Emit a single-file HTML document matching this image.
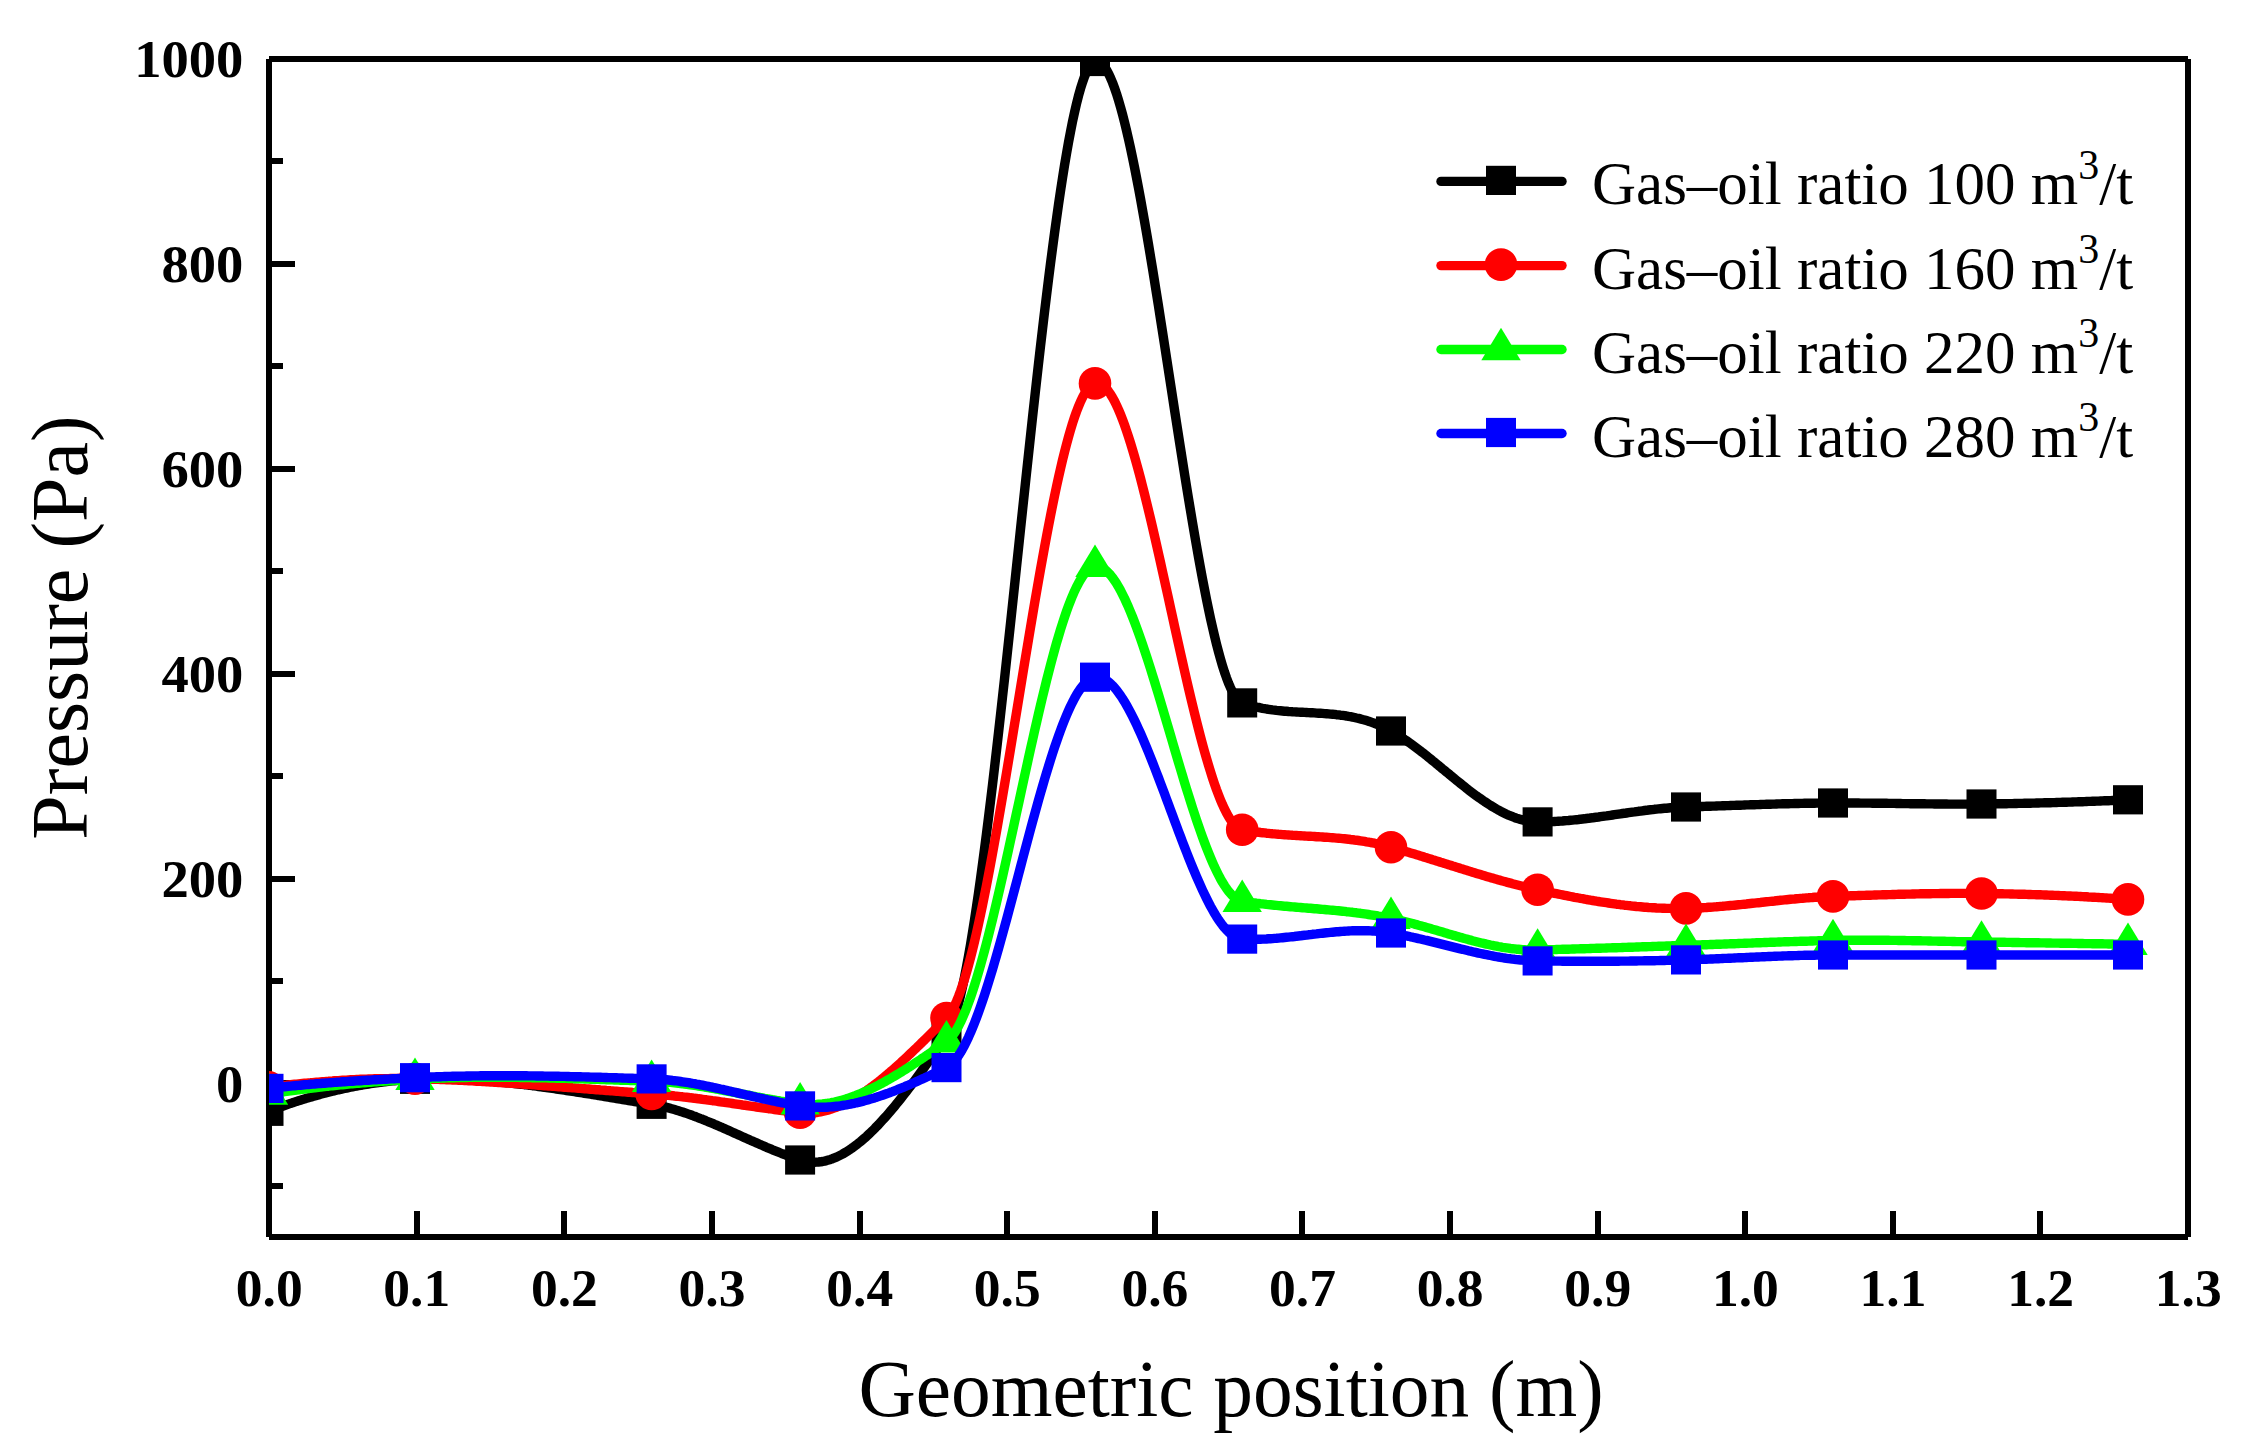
<!DOCTYPE html>
<html lang="en"><head><meta charset="utf-8"><title>Pressure vs geometric position</title>
<style>html,body{margin:0;padding:0;background:#fff}svg{display:block}.tk{font-family:"Liberation Serif","Times New Roman",serif;font-weight:bold;font-size:51.9px;fill:#000}.ti{font-family:"Liberation Serif","Times New Roman",serif;font-size:80px;fill:#000}.lg{font-family:"Liberation Serif","Times New Roman",serif;font-size:61px;fill:#000}</style></head><body>
<svg width="2255" height="1455" viewBox="0 0 2255 1455">
<rect width="2255" height="1455" fill="#fff"/>
<g stroke="#000" stroke-width="6" fill="none" shape-rendering="crispEdges">
<line x1="269" y1="59" x2="269" y2="1237"/><line x1="2188" y1="59" x2="2188" y2="1237"/><line x1="269" y1="59" x2="2188" y2="59"/><line x1="269" y1="1237" x2="2188" y2="1237"/>
<line x1="269" y1="1083.3" x2="295" y2="1083.3"/>
<line x1="269" y1="878.5" x2="295" y2="878.5"/>
<line x1="269" y1="673.6" x2="295" y2="673.6"/>
<line x1="269" y1="468.7" x2="295" y2="468.7"/>
<line x1="269" y1="263.9" x2="295" y2="263.9"/>
<line x1="269" y1="59.0" x2="295" y2="59.0"/>
<line x1="269" y1="1185.8" x2="283" y2="1185.8"/>
<line x1="269" y1="980.9" x2="283" y2="980.9"/>
<line x1="269" y1="776.0" x2="283" y2="776.0"/>
<line x1="269" y1="571.2" x2="283" y2="571.2"/>
<line x1="269" y1="366.3" x2="283" y2="366.3"/>
<line x1="269" y1="161.4" x2="283" y2="161.4"/>
<line x1="416.6" y1="1237" x2="416.6" y2="1211"/>
<line x1="564.2" y1="1237" x2="564.2" y2="1211"/>
<line x1="711.8" y1="1237" x2="711.8" y2="1211"/>
<line x1="859.5" y1="1237" x2="859.5" y2="1211"/>
<line x1="1007.1" y1="1237" x2="1007.1" y2="1211"/>
<line x1="1154.7" y1="1237" x2="1154.7" y2="1211"/>
<line x1="1302.3" y1="1237" x2="1302.3" y2="1211"/>
<line x1="1449.9" y1="1237" x2="1449.9" y2="1211"/>
<line x1="1597.5" y1="1237" x2="1597.5" y2="1211"/>
<line x1="1745.2" y1="1237" x2="1745.2" y2="1211"/>
<line x1="1892.8" y1="1237" x2="1892.8" y2="1211"/>
<line x1="2040.4" y1="1237" x2="2040.4" y2="1211"/>
</g>
<text class="tk" transform="translate(243.4,1101.5) scale(1.052,1)" text-anchor="end">0</text>
<text class="tk" transform="translate(243.4,896.7) scale(1.052,1)" text-anchor="end">200</text>
<text class="tk" transform="translate(243.4,691.8) scale(1.052,1)" text-anchor="end">400</text>
<text class="tk" transform="translate(243.4,486.9) scale(1.052,1)" text-anchor="end">600</text>
<text class="tk" transform="translate(243.4,282.1) scale(1.052,1)" text-anchor="end">800</text>
<text class="tk" transform="translate(243.4,77.2) scale(1.052,1)" text-anchor="end">1000</text>
<text class="tk" transform="translate(269.2,1305.8) scale(1.032,1)" text-anchor="middle">0.0</text>
<text class="tk" transform="translate(416.8,1305.8) scale(1.032,1)" text-anchor="middle">0.1</text>
<text class="tk" transform="translate(564.4,1305.8) scale(1.032,1)" text-anchor="middle">0.2</text>
<text class="tk" transform="translate(712.0,1305.8) scale(1.032,1)" text-anchor="middle">0.3</text>
<text class="tk" transform="translate(859.7,1305.8) scale(1.032,1)" text-anchor="middle">0.4</text>
<text class="tk" transform="translate(1007.3,1305.8) scale(1.032,1)" text-anchor="middle">0.5</text>
<text class="tk" transform="translate(1154.9,1305.8) scale(1.032,1)" text-anchor="middle">0.6</text>
<text class="tk" transform="translate(1302.5,1305.8) scale(1.032,1)" text-anchor="middle">0.7</text>
<text class="tk" transform="translate(1450.1,1305.8) scale(1.032,1)" text-anchor="middle">0.8</text>
<text class="tk" transform="translate(1597.7,1305.8) scale(1.032,1)" text-anchor="middle">0.9</text>
<text class="tk" transform="translate(1745.4,1305.8) scale(1.032,1)" text-anchor="middle">1.0</text>
<text class="tk" transform="translate(1893.0,1305.8) scale(1.032,1)" text-anchor="middle">1.1</text>
<text class="tk" transform="translate(2040.6,1305.8) scale(1.032,1)" text-anchor="middle">1.2</text>
<text class="tk" transform="translate(2188.2,1305.8) scale(1.032,1)" text-anchor="middle">1.3</text>
<text class="ti" x="1231" y="1416" text-anchor="middle" style="font-size:79.4px">Geometric position (m)</text>
<text class="ti" transform="translate(87,627.5) rotate(-90)" text-anchor="middle">Pressure (Pa)</text>
<clipPath id="c"><rect x="269" y="59" width="1919" height="1178"/></clipPath>
<g clip-path="url(#c)">
<path d="M268.5,1111.3 L270.5,1110.5 L272.5,1109.8 L274.5,1109.1 L276.5,1108.3 L278.5,1107.6 L280.5,1106.9 L282.5,1106.2 L284.5,1105.5 L286.5,1104.8 L288.5,1104.1 L290.5,1103.4 L292.5,1102.8 L294.5,1102.1 L296.5,1101.4 L298.5,1100.8 L300.5,1100.2 L302.5,1099.6 L304.5,1098.9 L306.5,1098.3 L308.5,1097.7 L310.5,1097.1 L312.5,1096.6 L314.5,1096.0 L316.5,1095.4 L318.5,1094.9 L320.5,1094.3 L322.5,1093.8 L324.5,1093.3 L326.5,1092.7 L328.5,1092.2 L330.5,1091.7 L332.5,1091.2 L334.5,1090.8 L336.5,1090.3 L338.5,1089.8 L340.5,1089.4 L342.5,1088.9 L344.5,1088.5 L346.5,1088.1 L348.5,1087.6 L350.5,1087.2 L352.5,1086.8 L354.5,1086.4 L356.5,1086.1 L358.5,1085.7 L360.5,1085.3 L362.5,1085.0 L364.5,1084.6 L366.5,1084.3 L368.5,1084.0 L370.5,1083.7 L372.5,1083.4 L374.5,1083.1 L376.5,1082.8 L378.5,1082.5 L380.5,1082.3 L382.5,1082.0 L384.5,1081.8 L386.5,1081.5 L388.5,1081.3 L390.5,1081.1 L392.5,1080.9 L394.5,1080.7 L396.5,1080.5 L398.5,1080.3 L400.5,1080.2 L402.5,1080.0 L404.5,1079.9 L406.5,1079.7 L408.5,1079.6 L410.5,1079.5 L412.5,1079.4 L414.5,1079.3 L415.0,1079.3 L416.5,1079.2 L418.5,1079.2 L420.5,1079.1 L422.5,1079.0 L424.5,1079.0 L426.5,1079.0 L428.5,1078.9 L430.5,1078.9 L432.5,1078.9 L434.5,1078.9 L436.5,1078.9 L438.5,1078.9 L440.5,1078.9 L442.5,1078.9 L444.5,1078.9 L446.5,1078.9 L448.5,1079.0 L450.5,1079.0 L452.5,1079.1 L454.5,1079.1 L456.5,1079.2 L458.5,1079.3 L460.5,1079.3 L462.5,1079.4 L464.5,1079.5 L466.5,1079.6 L468.5,1079.7 L470.5,1079.8 L472.5,1079.9 L474.5,1080.0 L476.5,1080.2 L478.5,1080.3 L480.5,1080.4 L482.5,1080.6 L484.5,1080.7 L486.5,1080.9 L488.5,1081.0 L490.5,1081.2 L492.5,1081.4 L494.5,1081.5 L496.5,1081.7 L498.5,1081.9 L500.5,1082.1 L502.5,1082.3 L504.5,1082.5 L506.5,1082.7 L508.5,1082.9 L510.5,1083.1 L512.5,1083.3 L514.5,1083.5 L516.5,1083.8 L518.5,1084.0 L520.5,1084.2 L522.5,1084.4 L524.5,1084.7 L526.5,1084.9 L528.5,1085.2 L530.5,1085.4 L532.5,1085.7 L534.5,1085.9 L536.5,1086.2 L538.5,1086.5 L540.5,1086.7 L542.5,1087.0 L544.5,1087.3 L546.5,1087.5 L548.5,1087.8 L550.5,1088.1 L552.5,1088.4 L554.5,1088.7 L556.5,1089.0 L558.5,1089.3 L560.5,1089.6 L562.5,1089.9 L564.5,1090.2 L566.5,1090.5 L568.5,1090.8 L570.5,1091.1 L572.5,1091.4 L574.5,1091.7 L576.5,1092.0 L578.5,1092.3 L580.5,1092.6 L582.5,1092.9 L584.5,1093.3 L586.5,1093.6 L588.5,1093.9 L590.5,1094.2 L592.5,1094.5 L594.5,1094.9 L596.5,1095.2 L598.5,1095.5 L600.5,1095.9 L602.5,1096.2 L604.5,1096.5 L606.5,1096.8 L608.5,1097.2 L610.5,1097.5 L612.5,1097.8 L614.5,1098.2 L616.5,1098.5 L618.5,1098.8 L620.5,1099.2 L622.5,1099.5 L624.5,1099.8 L626.5,1100.2 L628.5,1100.5 L630.5,1100.8 L632.5,1101.2 L634.5,1101.5 L636.5,1101.8 L638.5,1102.2 L640.5,1102.5 L642.5,1102.8 L644.5,1103.1 L646.5,1103.5 L648.5,1103.8 L650.5,1104.1 L651.6,1104.3 L652.5,1104.4 L654.5,1104.8 L656.5,1105.2 L658.5,1105.6 L660.5,1106.0 L662.5,1106.4 L664.5,1106.9 L666.5,1107.4 L668.5,1107.9 L670.5,1108.4 L672.5,1109.0 L674.5,1109.6 L676.5,1110.2 L678.5,1110.8 L680.5,1111.4 L682.5,1112.0 L684.5,1112.7 L686.5,1113.4 L688.5,1114.1 L690.5,1114.8 L692.5,1115.5 L694.5,1116.3 L696.5,1117.0 L698.5,1117.8 L700.5,1118.6 L702.5,1119.3 L704.5,1120.1 L706.5,1121.0 L708.5,1121.8 L710.5,1122.6 L712.5,1123.4 L714.5,1124.3 L716.5,1125.1 L718.5,1126.0 L720.5,1126.9 L722.5,1127.7 L724.5,1128.6 L726.5,1129.5 L728.5,1130.4 L730.5,1131.3 L732.5,1132.2 L734.5,1133.1 L736.5,1134.0 L738.5,1134.9 L740.5,1135.8 L742.5,1136.7 L744.5,1137.6 L746.5,1138.5 L748.5,1139.4 L750.5,1140.3 L752.5,1141.1 L754.5,1142.0 L756.5,1142.9 L758.5,1143.8 L760.5,1144.7 L762.5,1145.5 L764.5,1146.4 L766.5,1147.3 L768.5,1148.1 L770.5,1148.9 L772.5,1149.8 L774.5,1150.6 L776.5,1151.4 L778.5,1152.2 L780.5,1153.0 L782.5,1153.8 L784.5,1154.5 L786.5,1155.3 L788.5,1156.0 L790.5,1156.7 L792.5,1157.4 L794.5,1158.1 L796.5,1158.8 L798.5,1159.5 L800.1,1160.0 L800.5,1160.1 L802.5,1160.7 L804.5,1161.2 L806.5,1161.6 L808.5,1161.9 L810.5,1162.1 L812.5,1162.2 L814.5,1162.2 L816.5,1162.1 L818.5,1162.0 L820.5,1161.8 L822.5,1161.5 L824.5,1161.1 L826.5,1160.6 L828.5,1160.0 L830.5,1159.4 L832.5,1158.7 L834.5,1157.9 L836.5,1157.1 L838.5,1156.1 L840.5,1155.1 L842.5,1154.1 L844.5,1152.9 L846.5,1151.7 L848.5,1150.5 L850.5,1149.1 L852.5,1147.8 L854.5,1146.3 L856.5,1144.8 L858.5,1143.2 L860.5,1141.6 L862.5,1139.9 L864.5,1138.2 L866.5,1136.4 L868.5,1134.5 L870.5,1132.6 L872.5,1130.7 L874.5,1128.7 L876.5,1126.6 L878.5,1124.6 L880.5,1122.4 L882.5,1120.2 L884.5,1118.0 L886.5,1115.8 L888.5,1113.5 L890.5,1111.2 L892.5,1108.8 L894.5,1106.4 L896.5,1103.9 L898.5,1101.5 L900.5,1099.0 L902.5,1096.4 L904.5,1093.9 L906.5,1091.3 L908.5,1088.7 L910.5,1086.1 L912.5,1083.4 L914.5,1080.7 L916.5,1078.0 L918.5,1075.3 L920.5,1072.6 L922.5,1069.8 L924.5,1067.1 L926.5,1064.3 L928.5,1061.5 L930.5,1058.7 L932.5,1055.9 L934.5,1053.0 L936.5,1050.2 L938.5,1047.4 L940.5,1044.5 L942.5,1041.7 L944.5,1038.8 L946.5,1036.0 L948.5,1032.7 L950.5,1028.6 L952.5,1023.6 L954.5,1017.7 L956.5,1011.1 L958.5,1003.7 L960.5,995.6 L962.5,986.8 L964.5,977.2 L966.5,967.0 L968.5,956.2 L970.5,944.7 L972.5,932.6 L974.5,920.0 L976.5,906.8 L978.5,893.1 L980.5,878.9 L982.5,864.2 L984.5,849.1 L986.5,833.6 L988.5,817.6 L990.5,801.3 L992.5,784.7 L994.5,767.7 L996.5,750.4 L998.5,732.9 L1000.5,715.1 L1002.5,697.1 L1004.5,678.9 L1006.5,660.6 L1008.5,642.1 L1010.5,623.4 L1012.5,604.7 L1014.5,585.9 L1016.5,567.0 L1018.5,548.2 L1020.5,529.3 L1022.5,510.5 L1024.5,491.7 L1026.5,473.0 L1028.5,454.4 L1030.5,435.9 L1032.5,417.6 L1034.5,399.4 L1036.5,381.5 L1038.5,363.8 L1040.5,346.3 L1042.5,329.2 L1044.5,312.3 L1046.5,295.7 L1048.5,279.5 L1050.5,263.7 L1052.5,248.3 L1054.5,233.3 L1056.5,218.8 L1058.5,204.7 L1060.5,191.1 L1062.5,178.1 L1064.5,165.6 L1066.5,153.7 L1068.5,142.4 L1070.5,131.8 L1072.5,121.7 L1074.5,112.4 L1076.5,103.8 L1078.5,95.8 L1080.5,88.7 L1082.5,82.3 L1084.5,76.7 L1086.5,71.9 L1088.5,68.0 L1090.5,65.0 L1092.5,62.9 L1094.5,61.7 L1095.0,61.5 L1096.5,61.3 L1098.5,61.7 L1100.5,62.8 L1102.5,64.5 L1104.5,66.9 L1106.5,69.9 L1108.5,73.5 L1110.5,77.8 L1112.5,82.5 L1114.5,87.9 L1116.5,93.7 L1118.5,100.1 L1120.5,107.0 L1122.5,114.3 L1124.5,122.1 L1126.5,130.4 L1128.5,139.0 L1130.5,148.1 L1132.5,157.5 L1134.5,167.3 L1136.5,177.5 L1138.5,187.9 L1140.5,198.7 L1142.5,209.8 L1144.5,221.1 L1146.5,232.6 L1148.5,244.4 L1150.5,256.4 L1152.5,268.6 L1154.5,281.0 L1156.5,293.5 L1158.5,306.1 L1160.5,318.9 L1162.5,331.7 L1164.5,344.6 L1166.5,357.6 L1168.5,370.6 L1170.5,383.6 L1172.5,396.6 L1174.5,409.7 L1176.5,422.6 L1178.5,435.5 L1180.5,448.3 L1182.5,461.1 L1184.5,473.7 L1186.5,486.2 L1188.5,498.5 L1190.5,510.6 L1192.5,522.6 L1194.5,534.3 L1196.5,545.8 L1198.5,557.1 L1200.5,568.1 L1202.5,578.8 L1204.5,589.2 L1206.5,599.3 L1208.5,609.0 L1210.5,618.4 L1212.5,627.3 L1214.5,635.9 L1216.5,644.1 L1218.5,651.8 L1220.5,659.0 L1222.5,665.8 L1224.5,672.1 L1226.5,677.8 L1228.5,683.1 L1230.5,687.7 L1232.5,691.8 L1234.5,695.3 L1236.5,698.2 L1238.5,700.5 L1240.5,702.1 L1242.2,702.9 L1242.5,703.0 L1244.5,703.7 L1246.5,704.3 L1248.5,704.9 L1250.5,705.5 L1252.5,706.0 L1254.5,706.5 L1256.5,707.0 L1258.5,707.4 L1260.5,707.9 L1262.5,708.3 L1264.5,708.6 L1266.5,709.0 L1268.5,709.3 L1270.5,709.6 L1272.5,709.9 L1274.5,710.1 L1276.5,710.4 L1278.5,710.6 L1280.5,710.8 L1282.5,711.0 L1284.5,711.2 L1286.5,711.3 L1288.5,711.5 L1290.5,711.6 L1292.5,711.8 L1294.5,711.9 L1296.5,712.0 L1298.5,712.1 L1300.5,712.2 L1302.5,712.3 L1304.5,712.4 L1306.5,712.5 L1308.5,712.6 L1310.5,712.7 L1312.5,712.8 L1314.5,712.9 L1316.5,713.1 L1318.5,713.2 L1320.5,713.3 L1322.5,713.4 L1324.5,713.6 L1326.5,713.7 L1328.5,713.9 L1330.5,714.1 L1332.5,714.2 L1334.5,714.4 L1336.5,714.7 L1338.5,714.9 L1340.5,715.2 L1342.5,715.4 L1344.5,715.7 L1346.5,716.0 L1348.5,716.4 L1350.5,716.7 L1352.5,717.1 L1354.5,717.5 L1356.5,718.0 L1358.5,718.4 L1360.5,718.9 L1362.5,719.5 L1364.5,720.0 L1366.5,720.6 L1368.5,721.2 L1370.5,721.9 L1372.5,722.6 L1374.5,723.3 L1376.5,724.1 L1378.5,724.9 L1380.5,725.8 L1382.5,726.7 L1384.5,727.6 L1386.5,728.6 L1388.5,729.6 L1390.5,730.7 L1391.0,731.0 L1392.5,731.8 L1394.5,733.0 L1396.5,734.2 L1398.5,735.4 L1400.5,736.7 L1402.5,738.0 L1404.5,739.4 L1406.5,740.7 L1408.5,742.1 L1410.5,743.5 L1412.5,745.0 L1414.5,746.5 L1416.5,748.0 L1418.5,749.5 L1420.5,751.0 L1422.5,752.6 L1424.5,754.1 L1426.5,755.7 L1428.5,757.3 L1430.5,758.9 L1432.5,760.6 L1434.5,762.2 L1436.5,763.8 L1438.5,765.5 L1440.5,767.1 L1442.5,768.8 L1444.5,770.4 L1446.5,772.1 L1448.5,773.7 L1450.5,775.4 L1452.5,777.0 L1454.5,778.7 L1456.5,780.3 L1458.5,781.9 L1460.5,783.5 L1462.5,785.1 L1464.5,786.7 L1466.5,788.3 L1468.5,789.9 L1470.5,791.4 L1472.5,792.9 L1474.5,794.4 L1476.5,795.9 L1478.5,797.3 L1480.5,798.7 L1482.5,800.1 L1484.5,801.5 L1486.5,802.8 L1488.5,804.1 L1490.5,805.4 L1492.5,806.6 L1494.5,807.8 L1496.5,809.0 L1498.5,810.1 L1500.5,811.2 L1502.5,812.2 L1504.5,813.2 L1506.5,814.2 L1508.5,815.1 L1510.5,815.9 L1512.5,816.7 L1514.5,817.5 L1516.5,818.2 L1518.5,818.8 L1520.5,819.4 L1522.5,819.9 L1524.5,820.4 L1526.5,820.8 L1528.5,821.2 L1530.5,821.4 L1532.5,821.7 L1534.5,821.8 L1536.5,821.9 L1537.6,821.9 L1538.5,821.9 L1540.5,821.9 L1542.5,821.9 L1544.5,821.8 L1546.5,821.8 L1548.5,821.7 L1550.5,821.7 L1552.5,821.6 L1554.5,821.5 L1556.5,821.4 L1558.5,821.2 L1560.5,821.1 L1562.5,821.0 L1564.5,820.8 L1566.5,820.6 L1568.5,820.5 L1570.5,820.3 L1572.5,820.1 L1574.5,819.9 L1576.5,819.7 L1578.5,819.5 L1580.5,819.2 L1582.5,819.0 L1584.5,818.8 L1586.5,818.5 L1588.5,818.3 L1590.5,818.0 L1592.5,817.8 L1594.5,817.5 L1596.5,817.2 L1598.5,817.0 L1600.5,816.7 L1602.5,816.4 L1604.5,816.1 L1606.5,815.9 L1608.5,815.6 L1610.5,815.3 L1612.5,815.0 L1614.5,814.7 L1616.5,814.4 L1618.5,814.1 L1620.5,813.8 L1622.5,813.5 L1624.5,813.3 L1626.5,813.0 L1628.5,812.7 L1630.5,812.4 L1632.5,812.1 L1634.5,811.9 L1636.5,811.6 L1638.5,811.3 L1640.5,811.1 L1642.5,810.8 L1644.5,810.5 L1646.5,810.3 L1648.5,810.0 L1650.5,809.8 L1652.5,809.6 L1654.5,809.3 L1656.5,809.1 L1658.5,808.9 L1660.5,808.7 L1662.5,808.5 L1664.5,808.3 L1666.5,808.2 L1668.5,808.0 L1670.5,807.8 L1672.5,807.7 L1674.5,807.6 L1676.5,807.4 L1678.5,807.3 L1680.5,807.2 L1682.5,807.1 L1684.5,807.0 L1686.0,807.0 L1686.5,807.0 L1688.5,806.9 L1690.5,806.9 L1692.5,806.8 L1694.5,806.7 L1696.5,806.7 L1698.5,806.6 L1700.5,806.5 L1702.5,806.5 L1704.5,806.4 L1706.5,806.3 L1708.5,806.3 L1710.5,806.2 L1712.5,806.1 L1714.5,806.1 L1716.5,806.0 L1718.5,805.9 L1720.5,805.9 L1722.5,805.8 L1724.5,805.7 L1726.5,805.6 L1728.5,805.6 L1730.5,805.5 L1732.5,805.4 L1734.5,805.4 L1736.5,805.3 L1738.5,805.2 L1740.5,805.2 L1742.5,805.1 L1744.5,805.0 L1746.5,804.9 L1748.5,804.9 L1750.5,804.8 L1752.5,804.7 L1754.5,804.7 L1756.5,804.6 L1758.5,804.6 L1760.5,804.5 L1762.5,804.4 L1764.5,804.4 L1766.5,804.3 L1768.5,804.2 L1770.5,804.2 L1772.5,804.1 L1774.5,804.1 L1776.5,804.0 L1778.5,803.9 L1780.5,803.9 L1782.5,803.8 L1784.5,803.8 L1786.5,803.7 L1788.5,803.7 L1790.5,803.6 L1792.5,803.6 L1794.5,803.5 L1796.5,803.5 L1798.5,803.5 L1800.5,803.4 L1802.5,803.4 L1804.5,803.3 L1806.5,803.3 L1808.5,803.3 L1810.5,803.2 L1812.5,803.2 L1814.5,803.2 L1816.5,803.1 L1818.5,803.1 L1820.5,803.1 L1822.5,803.1 L1824.5,803.1 L1826.5,803.0 L1828.5,803.0 L1830.5,803.0 L1832.5,803.0 L1833.0,803.0 L1834.5,803.0 L1836.5,803.0 L1838.5,803.0 L1840.5,803.0 L1842.5,803.0 L1844.5,803.0 L1846.5,803.0 L1848.5,803.0 L1850.5,803.0 L1852.5,803.0 L1854.5,803.0 L1856.5,803.0 L1858.5,803.0 L1860.5,803.1 L1862.5,803.1 L1864.5,803.1 L1866.5,803.1 L1868.5,803.1 L1870.5,803.1 L1872.5,803.2 L1874.5,803.2 L1876.5,803.2 L1878.5,803.2 L1880.5,803.3 L1882.5,803.3 L1884.5,803.3 L1886.5,803.3 L1888.5,803.4 L1890.5,803.4 L1892.5,803.4 L1894.5,803.4 L1896.5,803.5 L1898.5,803.5 L1900.5,803.5 L1902.5,803.6 L1904.5,803.6 L1906.5,803.6 L1908.5,803.6 L1910.5,803.7 L1912.5,803.7 L1914.5,803.7 L1916.5,803.7 L1918.5,803.8 L1920.5,803.8 L1922.5,803.8 L1924.5,803.8 L1926.5,803.9 L1928.5,803.9 L1930.5,803.9 L1932.5,803.9 L1934.5,804.0 L1936.5,804.0 L1938.5,804.0 L1940.5,804.0 L1942.5,804.0 L1944.5,804.0 L1946.5,804.0 L1948.5,804.1 L1950.5,804.1 L1952.5,804.1 L1954.5,804.1 L1956.5,804.1 L1958.5,804.1 L1960.5,804.1 L1962.5,804.1 L1964.5,804.1 L1966.5,804.1 L1968.5,804.1 L1970.5,804.1 L1972.5,804.1 L1974.5,804.1 L1976.5,804.0 L1978.5,804.0 L1980.5,804.0 L1981.5,804.0 L1982.5,804.0 L1984.5,804.0 L1986.5,803.9 L1988.5,803.9 L1990.5,803.9 L1992.5,803.9 L1994.5,803.8 L1996.5,803.8 L1998.5,803.8 L2000.5,803.8 L2002.5,803.7 L2004.5,803.7 L2006.5,803.7 L2008.5,803.6 L2010.5,803.6 L2012.5,803.6 L2014.5,803.5 L2016.5,803.5 L2018.5,803.4 L2020.5,803.4 L2022.5,803.4 L2024.5,803.3 L2026.5,803.3 L2028.5,803.2 L2030.5,803.2 L2032.5,803.1 L2034.5,803.1 L2036.5,803.0 L2038.5,803.0 L2040.5,802.9 L2042.5,802.9 L2044.5,802.8 L2046.5,802.8 L2048.5,802.7 L2050.5,802.7 L2052.5,802.6 L2054.5,802.6 L2056.5,802.5 L2058.5,802.4 L2060.5,802.4 L2062.5,802.3 L2064.5,802.3 L2066.5,802.2 L2068.5,802.1 L2070.5,802.1 L2072.5,802.0 L2074.5,801.9 L2076.5,801.9 L2078.5,801.8 L2080.5,801.7 L2082.5,801.7 L2084.5,801.6 L2086.5,801.5 L2088.5,801.4 L2090.5,801.4 L2092.5,801.3 L2094.5,801.2 L2096.5,801.1 L2098.5,801.1 L2100.5,801.0 L2102.5,800.9 L2104.5,800.8 L2106.5,800.7 L2108.5,800.7 L2110.5,800.6 L2112.5,800.5 L2114.5,800.4 L2116.5,800.3 L2118.5,800.2 L2120.5,800.1 L2122.5,800.1 L2124.5,800.0 L2126.5,799.9 L2128.0,799.8" fill="none" stroke="#000000" stroke-width="9.4" stroke-linejoin="round" stroke-linecap="round"/>
<rect x="253.5" y="1096.7" width="30" height="29.2" fill="#000000"/>
<rect x="400.0" y="1064.7" width="30" height="29.2" fill="#000000"/>
<rect x="636.6" y="1089.7" width="30" height="29.2" fill="#000000"/>
<rect x="785.1" y="1145.4" width="30" height="29.2" fill="#000000"/>
<rect x="931.5" y="1021.4" width="30" height="29.2" fill="#000000"/>
<rect x="1080.0" y="46.9" width="30" height="29.2" fill="#000000"/>
<rect x="1227.2" y="688.3" width="30" height="29.2" fill="#000000"/>
<rect x="1376.0" y="716.4" width="30" height="29.2" fill="#000000"/>
<rect x="1522.6" y="807.3" width="30" height="29.2" fill="#000000"/>
<rect x="1671.0" y="792.4" width="30" height="29.2" fill="#000000"/>
<rect x="1818.0" y="788.4" width="30" height="29.2" fill="#000000"/>
<rect x="1966.5" y="789.4" width="30" height="29.2" fill="#000000"/>
<rect x="2113.0" y="785.2" width="30" height="29.2" fill="#000000"/>
<path d="M268.5,1087.2 L270.5,1087.0 L272.5,1086.7 L274.5,1086.5 L276.5,1086.3 L278.5,1086.0 L280.5,1085.8 L282.5,1085.6 L284.5,1085.4 L286.5,1085.2 L288.5,1084.9 L290.5,1084.7 L292.5,1084.5 L294.5,1084.3 L296.5,1084.1 L298.5,1083.9 L300.5,1083.7 L302.5,1083.5 L304.5,1083.3 L306.5,1083.1 L308.5,1082.9 L310.5,1082.8 L312.5,1082.6 L314.5,1082.4 L316.5,1082.2 L318.5,1082.1 L320.5,1081.9 L322.5,1081.7 L324.5,1081.6 L326.5,1081.4 L328.5,1081.3 L330.5,1081.1 L332.5,1081.0 L334.5,1080.8 L336.5,1080.7 L338.5,1080.6 L340.5,1080.4 L342.5,1080.3 L344.5,1080.2 L346.5,1080.1 L348.5,1079.9 L350.5,1079.8 L352.5,1079.7 L354.5,1079.6 L356.5,1079.5 L358.5,1079.4 L360.5,1079.3 L362.5,1079.3 L364.5,1079.2 L366.5,1079.1 L368.5,1079.0 L370.5,1079.0 L372.5,1078.9 L374.5,1078.8 L376.5,1078.8 L378.5,1078.7 L380.5,1078.7 L382.5,1078.6 L384.5,1078.6 L386.5,1078.6 L388.5,1078.6 L390.5,1078.5 L392.5,1078.5 L394.5,1078.5 L396.5,1078.5 L398.5,1078.5 L400.5,1078.5 L402.5,1078.5 L404.5,1078.5 L406.5,1078.6 L408.5,1078.6 L410.5,1078.6 L412.5,1078.6 L414.5,1078.7 L415.0,1078.7 L416.5,1078.7 L418.5,1078.8 L420.5,1078.8 L422.5,1078.9 L424.5,1078.9 L426.5,1079.0 L428.5,1079.1 L430.5,1079.1 L432.5,1079.2 L434.5,1079.3 L436.5,1079.3 L438.5,1079.4 L440.5,1079.5 L442.5,1079.6 L444.5,1079.6 L446.5,1079.7 L448.5,1079.8 L450.5,1079.9 L452.5,1080.0 L454.5,1080.1 L456.5,1080.1 L458.5,1080.2 L460.5,1080.3 L462.5,1080.4 L464.5,1080.5 L466.5,1080.6 L468.5,1080.7 L470.5,1080.8 L472.5,1080.9 L474.5,1081.1 L476.5,1081.2 L478.5,1081.3 L480.5,1081.4 L482.5,1081.5 L484.5,1081.6 L486.5,1081.7 L488.5,1081.8 L490.5,1082.0 L492.5,1082.1 L494.5,1082.2 L496.5,1082.3 L498.5,1082.5 L500.5,1082.6 L502.5,1082.7 L504.5,1082.8 L506.5,1083.0 L508.5,1083.1 L510.5,1083.2 L512.5,1083.4 L514.5,1083.5 L516.5,1083.6 L518.5,1083.8 L520.5,1083.9 L522.5,1084.1 L524.5,1084.2 L526.5,1084.3 L528.5,1084.5 L530.5,1084.6 L532.5,1084.8 L534.5,1084.9 L536.5,1085.1 L538.5,1085.2 L540.5,1085.4 L542.5,1085.5 L544.5,1085.7 L546.5,1085.8 L548.5,1086.0 L550.5,1086.1 L552.5,1086.3 L554.5,1086.4 L556.5,1086.6 L558.5,1086.7 L560.5,1086.9 L562.5,1087.0 L564.5,1087.2 L566.5,1087.3 L568.5,1087.5 L570.5,1087.6 L572.5,1087.8 L574.5,1087.9 L576.5,1088.1 L578.5,1088.3 L580.5,1088.4 L582.5,1088.6 L584.5,1088.7 L586.5,1088.9 L588.5,1089.0 L590.5,1089.2 L592.5,1089.4 L594.5,1089.5 L596.5,1089.7 L598.5,1089.8 L600.5,1090.0 L602.5,1090.1 L604.5,1090.3 L606.5,1090.5 L608.5,1090.6 L610.5,1090.8 L612.5,1090.9 L614.5,1091.1 L616.5,1091.2 L618.5,1091.4 L620.5,1091.6 L622.5,1091.7 L624.5,1091.9 L626.5,1092.0 L628.5,1092.2 L630.5,1092.3 L632.5,1092.5 L634.5,1092.6 L636.5,1092.8 L638.5,1092.9 L640.5,1093.1 L642.5,1093.2 L644.5,1093.4 L646.5,1093.5 L648.5,1093.7 L650.5,1093.8 L651.6,1093.9 L652.5,1094.0 L654.5,1094.1 L656.5,1094.3 L658.5,1094.4 L660.5,1094.6 L662.5,1094.8 L664.5,1095.0 L666.5,1095.2 L668.5,1095.3 L670.5,1095.5 L672.5,1095.7 L674.5,1096.0 L676.5,1096.2 L678.5,1096.4 L680.5,1096.6 L682.5,1096.8 L684.5,1097.1 L686.5,1097.3 L688.5,1097.5 L690.5,1097.8 L692.5,1098.0 L694.5,1098.3 L696.5,1098.5 L698.5,1098.8 L700.5,1099.0 L702.5,1099.3 L704.5,1099.6 L706.5,1099.8 L708.5,1100.1 L710.5,1100.4 L712.5,1100.7 L714.5,1100.9 L716.5,1101.2 L718.5,1101.5 L720.5,1101.8 L722.5,1102.1 L724.5,1102.3 L726.5,1102.6 L728.5,1102.9 L730.5,1103.2 L732.5,1103.5 L734.5,1103.8 L736.5,1104.1 L738.5,1104.4 L740.5,1104.7 L742.5,1105.0 L744.5,1105.2 L746.5,1105.5 L748.5,1105.8 L750.5,1106.1 L752.5,1106.4 L754.5,1106.7 L756.5,1107.0 L758.5,1107.3 L760.5,1107.5 L762.5,1107.8 L764.5,1108.1 L766.5,1108.4 L768.5,1108.7 L770.5,1108.9 L772.5,1109.2 L774.5,1109.5 L776.5,1109.8 L778.5,1110.0 L780.5,1110.3 L782.5,1110.6 L784.5,1110.8 L786.5,1111.1 L788.5,1111.3 L790.5,1111.6 L792.5,1111.8 L794.5,1112.0 L796.5,1112.3 L798.5,1112.5 L800.1,1112.7 L800.5,1112.7 L802.5,1112.9 L804.5,1113.0 L806.5,1113.1 L808.5,1113.1 L810.5,1113.0 L812.5,1112.9 L814.5,1112.7 L816.5,1112.5 L818.5,1112.2 L820.5,1111.8 L822.5,1111.4 L824.5,1111.0 L826.5,1110.5 L828.5,1109.9 L830.5,1109.3 L832.5,1108.6 L834.5,1107.9 L836.5,1107.2 L838.5,1106.3 L840.5,1105.5 L842.5,1104.6 L844.5,1103.6 L846.5,1102.7 L848.5,1101.6 L850.5,1100.5 L852.5,1099.4 L854.5,1098.3 L856.5,1097.1 L858.5,1095.9 L860.5,1094.6 L862.5,1093.3 L864.5,1091.9 L866.5,1090.6 L868.5,1089.2 L870.5,1087.7 L872.5,1086.3 L874.5,1084.7 L876.5,1083.2 L878.5,1081.7 L880.5,1080.1 L882.5,1078.5 L884.5,1076.8 L886.5,1075.1 L888.5,1073.5 L890.5,1071.7 L892.5,1070.0 L894.5,1068.3 L896.5,1066.5 L898.5,1064.7 L900.5,1062.9 L902.5,1061.0 L904.5,1059.2 L906.5,1057.3 L908.5,1055.4 L910.5,1053.5 L912.5,1051.6 L914.5,1049.7 L916.5,1047.8 L918.5,1045.8 L920.5,1043.9 L922.5,1041.9 L924.5,1040.0 L926.5,1038.0 L928.5,1036.0 L930.5,1034.0 L932.5,1032.0 L934.5,1030.0 L936.5,1028.1 L938.5,1026.1 L940.5,1024.1 L942.5,1022.1 L944.5,1020.1 L946.5,1018.1 L948.5,1015.8 L950.5,1013.0 L952.5,1009.6 L954.5,1005.8 L956.5,1001.4 L958.5,996.5 L960.5,991.1 L962.5,985.3 L964.5,979.0 L966.5,972.3 L968.5,965.2 L970.5,957.7 L972.5,949.8 L974.5,941.6 L976.5,933.0 L978.5,924.0 L980.5,914.8 L982.5,905.2 L984.5,895.4 L986.5,885.3 L988.5,874.9 L990.5,864.4 L992.5,853.5 L994.5,842.5 L996.5,831.3 L998.5,820.0 L1000.5,808.4 L1002.5,796.7 L1004.5,784.9 L1006.5,773.0 L1008.5,761.0 L1010.5,749.0 L1012.5,736.8 L1014.5,724.6 L1016.5,712.4 L1018.5,700.2 L1020.5,688.0 L1022.5,675.8 L1024.5,663.6 L1026.5,651.5 L1028.5,639.4 L1030.5,627.5 L1032.5,615.6 L1034.5,603.8 L1036.5,592.2 L1038.5,580.7 L1040.5,569.4 L1042.5,558.3 L1044.5,547.3 L1046.5,536.6 L1048.5,526.1 L1050.5,515.8 L1052.5,505.8 L1054.5,496.1 L1056.5,486.6 L1058.5,477.5 L1060.5,468.7 L1062.5,460.2 L1064.5,452.1 L1066.5,444.3 L1068.5,436.9 L1070.5,430.0 L1072.5,423.4 L1074.5,417.3 L1076.5,411.6 L1078.5,406.5 L1080.5,401.7 L1082.5,397.5 L1084.5,393.8 L1086.5,390.6 L1088.5,388.0 L1090.5,385.9 L1092.5,384.4 L1094.5,383.5 L1095.0,383.4 L1096.5,383.2 L1098.5,383.4 L1100.5,384.1 L1102.5,385.2 L1104.5,386.8 L1106.5,388.8 L1108.5,391.3 L1110.5,394.2 L1112.5,397.5 L1114.5,401.1 L1116.5,405.2 L1118.5,409.6 L1120.5,414.4 L1122.5,419.5 L1124.5,424.9 L1126.5,430.7 L1128.5,436.7 L1130.5,443.0 L1132.5,449.6 L1134.5,456.4 L1136.5,463.5 L1138.5,470.8 L1140.5,478.3 L1142.5,486.1 L1144.5,494.0 L1146.5,502.1 L1148.5,510.3 L1150.5,518.7 L1152.5,527.2 L1154.5,535.9 L1156.5,544.6 L1158.5,553.5 L1160.5,562.4 L1162.5,571.4 L1164.5,580.4 L1166.5,589.5 L1168.5,598.6 L1170.5,607.7 L1172.5,616.8 L1174.5,625.9 L1176.5,635.0 L1178.5,644.0 L1180.5,653.0 L1182.5,661.9 L1184.5,670.7 L1186.5,679.5 L1188.5,688.1 L1190.5,696.6 L1192.5,704.9 L1194.5,713.1 L1196.5,721.2 L1198.5,729.0 L1200.5,736.7 L1202.5,744.2 L1204.5,751.4 L1206.5,758.4 L1208.5,765.2 L1210.5,771.7 L1212.5,778.0 L1214.5,783.9 L1216.5,789.6 L1218.5,794.9 L1220.5,799.9 L1222.5,804.6 L1224.5,808.9 L1226.5,812.9 L1228.5,816.5 L1230.5,819.7 L1232.5,822.4 L1234.5,824.8 L1236.5,826.7 L1238.5,828.2 L1240.5,829.2 L1242.2,829.7 L1242.5,829.8 L1244.5,830.1 L1246.5,830.5 L1248.5,830.8 L1250.5,831.1 L1252.5,831.4 L1254.5,831.7 L1256.5,832.0 L1258.5,832.2 L1260.5,832.5 L1262.5,832.7 L1264.5,832.9 L1266.5,833.2 L1268.5,833.4 L1270.5,833.6 L1272.5,833.8 L1274.5,833.9 L1276.5,834.1 L1278.5,834.3 L1280.5,834.4 L1282.5,834.6 L1284.5,834.7 L1286.5,834.9 L1288.5,835.0 L1290.5,835.1 L1292.5,835.3 L1294.5,835.4 L1296.5,835.5 L1298.5,835.6 L1300.5,835.7 L1302.5,835.9 L1304.5,836.0 L1306.5,836.1 L1308.5,836.2 L1310.5,836.3 L1312.5,836.4 L1314.5,836.5 L1316.5,836.7 L1318.5,836.8 L1320.5,836.9 L1322.5,837.0 L1324.5,837.2 L1326.5,837.3 L1328.5,837.4 L1330.5,837.6 L1332.5,837.7 L1334.5,837.9 L1336.5,838.1 L1338.5,838.2 L1340.5,838.4 L1342.5,838.6 L1344.5,838.8 L1346.5,839.0 L1348.5,839.2 L1350.5,839.5 L1352.5,839.7 L1354.5,840.0 L1356.5,840.2 L1358.5,840.5 L1360.5,840.8 L1362.5,841.1 L1364.5,841.4 L1366.5,841.8 L1368.5,842.1 L1370.5,842.5 L1372.5,842.8 L1374.5,843.2 L1376.5,843.7 L1378.5,844.1 L1380.5,844.5 L1382.5,845.0 L1384.5,845.5 L1386.5,846.0 L1388.5,846.5 L1390.5,847.1 L1391.0,847.2 L1392.5,847.6 L1394.5,848.2 L1396.5,848.8 L1398.5,849.3 L1400.5,849.9 L1402.5,850.5 L1404.5,851.1 L1406.5,851.7 L1408.5,852.3 L1410.5,852.9 L1412.5,853.5 L1414.5,854.1 L1416.5,854.7 L1418.5,855.3 L1420.5,855.9 L1422.5,856.5 L1424.5,857.2 L1426.5,857.8 L1428.5,858.4 L1430.5,859.0 L1432.5,859.7 L1434.5,860.3 L1436.5,860.9 L1438.5,861.5 L1440.5,862.2 L1442.5,862.8 L1444.5,863.4 L1446.5,864.1 L1448.5,864.7 L1450.5,865.3 L1452.5,866.0 L1454.5,866.6 L1456.5,867.2 L1458.5,867.8 L1460.5,868.5 L1462.5,869.1 L1464.5,869.7 L1466.5,870.3 L1468.5,870.9 L1470.5,871.6 L1472.5,872.2 L1474.5,872.8 L1476.5,873.4 L1478.5,874.0 L1480.5,874.6 L1482.5,875.2 L1484.5,875.8 L1486.5,876.4 L1488.5,877.0 L1490.5,877.6 L1492.5,878.1 L1494.5,878.7 L1496.5,879.3 L1498.5,879.9 L1500.5,880.4 L1502.5,881.0 L1504.5,881.5 L1506.5,882.1 L1508.5,882.6 L1510.5,883.1 L1512.5,883.7 L1514.5,884.2 L1516.5,884.7 L1518.5,885.2 L1520.5,885.7 L1522.5,886.2 L1524.5,886.7 L1526.5,887.2 L1528.5,887.7 L1530.5,888.1 L1532.5,888.6 L1534.5,889.0 L1536.5,889.5 L1537.6,889.7 L1538.5,889.9 L1540.5,890.3 L1542.5,890.8 L1544.5,891.2 L1546.5,891.6 L1548.5,892.0 L1550.5,892.4 L1552.5,892.9 L1554.5,893.3 L1556.5,893.7 L1558.5,894.1 L1560.5,894.5 L1562.5,894.9 L1564.5,895.3 L1566.5,895.7 L1568.5,896.1 L1570.5,896.5 L1572.5,896.9 L1574.5,897.3 L1576.5,897.6 L1578.5,898.0 L1580.5,898.4 L1582.5,898.7 L1584.5,899.1 L1586.5,899.5 L1588.5,899.8 L1590.5,900.2 L1592.5,900.5 L1594.5,900.8 L1596.5,901.2 L1598.5,901.5 L1600.5,901.8 L1602.5,902.1 L1604.5,902.4 L1606.5,902.7 L1608.5,903.0 L1610.5,903.3 L1612.5,903.6 L1614.5,903.9 L1616.5,904.2 L1618.5,904.4 L1620.5,904.7 L1622.5,904.9 L1624.5,905.2 L1626.5,905.4 L1628.5,905.6 L1630.5,905.8 L1632.5,906.1 L1634.5,906.3 L1636.5,906.5 L1638.5,906.6 L1640.5,906.8 L1642.5,907.0 L1644.5,907.2 L1646.5,907.3 L1648.5,907.5 L1650.5,907.6 L1652.5,907.7 L1654.5,907.8 L1656.5,908.0 L1658.5,908.1 L1660.5,908.1 L1662.5,908.2 L1664.5,908.3 L1666.5,908.4 L1668.5,908.4 L1670.5,908.4 L1672.5,908.5 L1674.5,908.5 L1676.5,908.5 L1678.5,908.5 L1680.5,908.5 L1682.5,908.5 L1684.5,908.4 L1686.0,908.4 L1686.5,908.4 L1688.5,908.3 L1690.5,908.3 L1692.5,908.2 L1694.5,908.1 L1696.5,908.0 L1698.5,907.9 L1700.5,907.8 L1702.5,907.7 L1704.5,907.6 L1706.5,907.5 L1708.5,907.3 L1710.5,907.2 L1712.5,907.1 L1714.5,906.9 L1716.5,906.8 L1718.5,906.6 L1720.5,906.4 L1722.5,906.3 L1724.5,906.1 L1726.5,905.9 L1728.5,905.7 L1730.5,905.5 L1732.5,905.4 L1734.5,905.2 L1736.5,905.0 L1738.5,904.8 L1740.5,904.6 L1742.5,904.4 L1744.5,904.2 L1746.5,904.0 L1748.5,903.7 L1750.5,903.5 L1752.5,903.3 L1754.5,903.1 L1756.5,902.9 L1758.5,902.7 L1760.5,902.5 L1762.5,902.2 L1764.5,902.0 L1766.5,901.8 L1768.5,901.6 L1770.5,901.4 L1772.5,901.2 L1774.5,901.0 L1776.5,900.7 L1778.5,900.5 L1780.5,900.3 L1782.5,900.1 L1784.5,899.9 L1786.5,899.7 L1788.5,899.5 L1790.5,899.3 L1792.5,899.1 L1794.5,899.0 L1796.5,898.8 L1798.5,898.6 L1800.5,898.4 L1802.5,898.3 L1804.5,898.1 L1806.5,897.9 L1808.5,897.8 L1810.5,897.6 L1812.5,897.5 L1814.5,897.3 L1816.5,897.2 L1818.5,897.1 L1820.5,897.0 L1822.5,896.9 L1824.5,896.8 L1826.5,896.7 L1828.5,896.6 L1830.5,896.5 L1832.5,896.4 L1833.0,896.4 L1834.5,896.3 L1836.5,896.3 L1838.5,896.2 L1840.5,896.1 L1842.5,896.1 L1844.5,896.0 L1846.5,895.9 L1848.5,895.9 L1850.5,895.8 L1852.5,895.7 L1854.5,895.7 L1856.5,895.6 L1858.5,895.5 L1860.5,895.5 L1862.5,895.4 L1864.5,895.4 L1866.5,895.3 L1868.5,895.2 L1870.5,895.2 L1872.5,895.1 L1874.5,895.0 L1876.5,895.0 L1878.5,894.9 L1880.5,894.9 L1882.5,894.8 L1884.5,894.7 L1886.5,894.7 L1888.5,894.6 L1890.5,894.6 L1892.5,894.5 L1894.5,894.5 L1896.5,894.4 L1898.5,894.3 L1900.5,894.3 L1902.5,894.2 L1904.5,894.2 L1906.5,894.1 L1908.5,894.1 L1910.5,894.1 L1912.5,894.0 L1914.5,894.0 L1916.5,893.9 L1918.5,893.9 L1920.5,893.8 L1922.5,893.8 L1924.5,893.8 L1926.5,893.7 L1928.5,893.7 L1930.5,893.7 L1932.5,893.6 L1934.5,893.6 L1936.5,893.6 L1938.5,893.6 L1940.5,893.5 L1942.5,893.5 L1944.5,893.5 L1946.5,893.5 L1948.5,893.5 L1950.5,893.4 L1952.5,893.4 L1954.5,893.4 L1956.5,893.4 L1958.5,893.4 L1960.5,893.4 L1962.5,893.4 L1964.5,893.4 L1966.5,893.4 L1968.5,893.4 L1970.5,893.4 L1972.5,893.4 L1974.5,893.4 L1976.5,893.5 L1978.5,893.5 L1980.5,893.5 L1981.5,893.5 L1982.5,893.5 L1984.5,893.5 L1986.5,893.6 L1988.5,893.6 L1990.5,893.6 L1992.5,893.6 L1994.5,893.7 L1996.5,893.7 L1998.5,893.7 L2000.5,893.8 L2002.5,893.8 L2004.5,893.9 L2006.5,893.9 L2008.5,893.9 L2010.5,894.0 L2012.5,894.0 L2014.5,894.1 L2016.5,894.1 L2018.5,894.2 L2020.5,894.2 L2022.5,894.3 L2024.5,894.3 L2026.5,894.4 L2028.5,894.5 L2030.5,894.5 L2032.5,894.6 L2034.5,894.6 L2036.5,894.7 L2038.5,894.8 L2040.5,894.8 L2042.5,894.9 L2044.5,895.0 L2046.5,895.0 L2048.5,895.1 L2050.5,895.2 L2052.5,895.3 L2054.5,895.4 L2056.5,895.4 L2058.5,895.5 L2060.5,895.6 L2062.5,895.7 L2064.5,895.8 L2066.5,895.9 L2068.5,896.0 L2070.5,896.0 L2072.5,896.1 L2074.5,896.2 L2076.5,896.3 L2078.5,896.4 L2080.5,896.5 L2082.5,896.6 L2084.5,896.7 L2086.5,896.8 L2088.5,897.0 L2090.5,897.1 L2092.5,897.2 L2094.5,897.3 L2096.5,897.4 L2098.5,897.5 L2100.5,897.6 L2102.5,897.7 L2104.5,897.9 L2106.5,898.0 L2108.5,898.1 L2110.5,898.2 L2112.5,898.4 L2114.5,898.5 L2116.5,898.6 L2118.5,898.8 L2120.5,898.9 L2122.5,899.0 L2124.5,899.2 L2126.5,899.3 L2128.0,899.4" fill="none" stroke="#ff0000" stroke-width="9.4" stroke-linejoin="round" stroke-linecap="round"/>
<circle cx="268.5" cy="1087.2" r="16.3" fill="#ff0000"/>
<circle cx="415.0" cy="1078.7" r="16.3" fill="#ff0000"/>
<circle cx="651.6" cy="1093.9" r="16.3" fill="#ff0000"/>
<circle cx="800.1" cy="1112.7" r="16.3" fill="#ff0000"/>
<circle cx="946.5" cy="1018.1" r="16.3" fill="#ff0000"/>
<circle cx="1095.0" cy="383.4" r="16.3" fill="#ff0000"/>
<circle cx="1242.2" cy="829.7" r="16.3" fill="#ff0000"/>
<circle cx="1391.0" cy="847.2" r="16.3" fill="#ff0000"/>
<circle cx="1537.6" cy="889.7" r="16.3" fill="#ff0000"/>
<circle cx="1686.0" cy="908.4" r="16.3" fill="#ff0000"/>
<circle cx="1833.0" cy="896.4" r="16.3" fill="#ff0000"/>
<circle cx="1981.5" cy="893.5" r="16.3" fill="#ff0000"/>
<circle cx="2128.0" cy="899.4" r="16.3" fill="#ff0000"/>
<path d="M268.5,1094.1 L270.5,1093.8 L272.5,1093.5 L274.5,1093.2 L276.5,1092.9 L278.5,1092.6 L280.5,1092.3 L282.5,1092.0 L284.5,1091.7 L286.5,1091.4 L288.5,1091.1 L290.5,1090.9 L292.5,1090.6 L294.5,1090.3 L296.5,1090.0 L298.5,1089.8 L300.5,1089.5 L302.5,1089.2 L304.5,1089.0 L306.5,1088.7 L308.5,1088.5 L310.5,1088.2 L312.5,1088.0 L314.5,1087.8 L316.5,1087.5 L318.5,1087.3 L320.5,1087.1 L322.5,1086.8 L324.5,1086.6 L326.5,1086.4 L328.5,1086.2 L330.5,1085.9 L332.5,1085.7 L334.5,1085.5 L336.5,1085.3 L338.5,1085.1 L340.5,1084.9 L342.5,1084.7 L344.5,1084.5 L346.5,1084.3 L348.5,1084.1 L350.5,1083.9 L352.5,1083.7 L354.5,1083.6 L356.5,1083.4 L358.5,1083.2 L360.5,1083.0 L362.5,1082.8 L364.5,1082.7 L366.5,1082.5 L368.5,1082.3 L370.5,1082.2 L372.5,1082.0 L374.5,1081.9 L376.5,1081.7 L378.5,1081.6 L380.5,1081.4 L382.5,1081.3 L384.5,1081.1 L386.5,1081.0 L388.5,1080.8 L390.5,1080.7 L392.5,1080.6 L394.5,1080.4 L396.5,1080.3 L398.5,1080.2 L400.5,1080.0 L402.5,1079.9 L404.5,1079.8 L406.5,1079.7 L408.5,1079.6 L410.5,1079.4 L412.5,1079.3 L414.5,1079.2 L415.0,1079.2 L416.5,1079.1 L418.5,1079.0 L420.5,1078.9 L422.5,1078.8 L424.5,1078.7 L426.5,1078.6 L428.5,1078.5 L430.5,1078.5 L432.5,1078.4 L434.5,1078.3 L436.5,1078.2 L438.5,1078.2 L440.5,1078.1 L442.5,1078.0 L444.5,1078.0 L446.5,1077.9 L448.5,1077.8 L450.5,1077.8 L452.5,1077.7 L454.5,1077.7 L456.5,1077.6 L458.5,1077.6 L460.5,1077.6 L462.5,1077.5 L464.5,1077.5 L466.5,1077.5 L468.5,1077.4 L470.5,1077.4 L472.5,1077.4 L474.5,1077.4 L476.5,1077.3 L478.5,1077.3 L480.5,1077.3 L482.5,1077.3 L484.5,1077.3 L486.5,1077.3 L488.5,1077.3 L490.5,1077.3 L492.5,1077.3 L494.5,1077.3 L496.5,1077.3 L498.5,1077.3 L500.5,1077.3 L502.5,1077.3 L504.5,1077.3 L506.5,1077.3 L508.5,1077.3 L510.5,1077.4 L512.5,1077.4 L514.5,1077.4 L516.5,1077.4 L518.5,1077.4 L520.5,1077.5 L522.5,1077.5 L524.5,1077.5 L526.5,1077.6 L528.5,1077.6 L530.5,1077.6 L532.5,1077.7 L534.5,1077.7 L536.5,1077.7 L538.5,1077.8 L540.5,1077.8 L542.5,1077.9 L544.5,1077.9 L546.5,1077.9 L548.5,1078.0 L550.5,1078.0 L552.5,1078.1 L554.5,1078.1 L556.5,1078.2 L558.5,1078.2 L560.5,1078.3 L562.5,1078.3 L564.5,1078.4 L566.5,1078.4 L568.5,1078.5 L570.5,1078.6 L572.5,1078.6 L574.5,1078.7 L576.5,1078.7 L578.5,1078.8 L580.5,1078.9 L582.5,1078.9 L584.5,1079.0 L586.5,1079.0 L588.5,1079.1 L590.5,1079.2 L592.5,1079.2 L594.5,1079.3 L596.5,1079.4 L598.5,1079.4 L600.5,1079.5 L602.5,1079.6 L604.5,1079.6 L606.5,1079.7 L608.5,1079.8 L610.5,1079.8 L612.5,1079.9 L614.5,1080.0 L616.5,1080.0 L618.5,1080.1 L620.5,1080.2 L622.5,1080.2 L624.5,1080.3 L626.5,1080.4 L628.5,1080.4 L630.5,1080.5 L632.5,1080.6 L634.5,1080.6 L636.5,1080.7 L638.5,1080.8 L640.5,1080.8 L642.5,1080.9 L644.5,1081.0 L646.5,1081.0 L648.5,1081.1 L650.5,1081.2 L651.6,1081.2 L652.5,1081.2 L654.5,1081.3 L656.5,1081.4 L658.5,1081.5 L660.5,1081.6 L662.5,1081.8 L664.5,1081.9 L666.5,1082.1 L668.5,1082.2 L670.5,1082.4 L672.5,1082.6 L674.5,1082.8 L676.5,1083.0 L678.5,1083.2 L680.5,1083.5 L682.5,1083.7 L684.5,1084.0 L686.5,1084.2 L688.5,1084.5 L690.5,1084.8 L692.5,1085.1 L694.5,1085.4 L696.5,1085.7 L698.5,1086.0 L700.5,1086.3 L702.5,1086.6 L704.5,1087.0 L706.5,1087.3 L708.5,1087.7 L710.5,1088.0 L712.5,1088.4 L714.5,1088.7 L716.5,1089.1 L718.5,1089.4 L720.5,1089.8 L722.5,1090.2 L724.5,1090.6 L726.5,1091.0 L728.5,1091.3 L730.5,1091.7 L732.5,1092.1 L734.5,1092.5 L736.5,1092.9 L738.5,1093.3 L740.5,1093.7 L742.5,1094.1 L744.5,1094.4 L746.5,1094.8 L748.5,1095.2 L750.5,1095.6 L752.5,1096.0 L754.5,1096.4 L756.5,1096.8 L758.5,1097.1 L760.5,1097.5 L762.5,1097.9 L764.5,1098.3 L766.5,1098.6 L768.5,1099.0 L770.5,1099.3 L772.5,1099.7 L774.5,1100.0 L776.5,1100.4 L778.5,1100.7 L780.5,1101.1 L782.5,1101.4 L784.5,1101.7 L786.5,1102.0 L788.5,1102.3 L790.5,1102.6 L792.5,1102.9 L794.5,1103.2 L796.5,1103.4 L798.5,1103.7 L800.1,1103.9 L800.5,1103.9 L802.5,1104.2 L804.5,1104.3 L806.5,1104.5 L808.5,1104.6 L810.5,1104.6 L812.5,1104.6 L814.5,1104.6 L816.5,1104.5 L818.5,1104.3 L820.5,1104.2 L822.5,1104.0 L824.5,1103.7 L826.5,1103.5 L828.5,1103.1 L830.5,1102.8 L832.5,1102.4 L834.5,1102.0 L836.5,1101.5 L838.5,1101.0 L840.5,1100.5 L842.5,1100.0 L844.5,1099.4 L846.5,1098.8 L848.5,1098.1 L850.5,1097.4 L852.5,1096.7 L854.5,1096.0 L856.5,1095.2 L858.5,1094.4 L860.5,1093.6 L862.5,1092.7 L864.5,1091.9 L866.5,1091.0 L868.5,1090.0 L870.5,1089.1 L872.5,1088.1 L874.5,1087.1 L876.5,1086.1 L878.5,1085.1 L880.5,1084.0 L882.5,1083.0 L884.5,1081.9 L886.5,1080.7 L888.5,1079.6 L890.5,1078.5 L892.5,1077.3 L894.5,1076.1 L896.5,1074.9 L898.5,1073.7 L900.5,1072.5 L902.5,1071.2 L904.5,1070.0 L906.5,1068.7 L908.5,1067.4 L910.5,1066.2 L912.5,1064.9 L914.5,1063.5 L916.5,1062.2 L918.5,1060.9 L920.5,1059.6 L922.5,1058.2 L924.5,1056.9 L926.5,1055.5 L928.5,1054.2 L930.5,1052.8 L932.5,1051.4 L934.5,1050.1 L936.5,1048.7 L938.5,1047.3 L940.5,1045.9 L942.5,1044.6 L944.5,1043.2 L946.5,1041.8 L948.5,1040.2 L950.5,1038.2 L952.5,1035.8 L954.5,1032.9 L956.5,1029.7 L958.5,1026.1 L960.5,1022.2 L962.5,1017.8 L964.5,1013.2 L966.5,1008.2 L968.5,1002.9 L970.5,997.3 L972.5,991.4 L974.5,985.3 L976.5,978.9 L978.5,972.2 L980.5,965.2 L982.5,958.1 L984.5,950.7 L986.5,943.1 L988.5,935.4 L990.5,927.4 L992.5,919.3 L994.5,911.0 L996.5,902.6 L998.5,894.0 L1000.5,885.4 L1002.5,876.6 L1004.5,867.7 L1006.5,858.7 L1008.5,849.7 L1010.5,840.6 L1012.5,831.5 L1014.5,822.3 L1016.5,813.1 L1018.5,803.9 L1020.5,794.7 L1022.5,785.5 L1024.5,776.3 L1026.5,767.2 L1028.5,758.1 L1030.5,749.1 L1032.5,740.2 L1034.5,731.3 L1036.5,722.6 L1038.5,713.9 L1040.5,705.4 L1042.5,697.0 L1044.5,688.8 L1046.5,680.7 L1048.5,672.8 L1050.5,665.1 L1052.5,657.6 L1054.5,650.2 L1056.5,643.1 L1058.5,636.3 L1060.5,629.7 L1062.5,623.3 L1064.5,617.2 L1066.5,611.4 L1068.5,605.9 L1070.5,600.7 L1072.5,595.8 L1074.5,591.2 L1076.5,587.0 L1078.5,583.2 L1080.5,579.7 L1082.5,576.5 L1084.5,573.8 L1086.5,571.5 L1088.5,569.6 L1090.5,568.1 L1092.5,567.1 L1094.5,566.5 L1095.0,566.4 L1096.5,566.3 L1098.5,566.5 L1100.5,567.1 L1102.5,568.0 L1104.5,569.3 L1106.5,570.9 L1108.5,572.8 L1110.5,575.0 L1112.5,577.6 L1114.5,580.4 L1116.5,583.4 L1118.5,586.8 L1120.5,590.4 L1122.5,594.3 L1124.5,598.3 L1126.5,602.7 L1128.5,607.2 L1130.5,612.0 L1132.5,616.9 L1134.5,622.0 L1136.5,627.4 L1138.5,632.8 L1140.5,638.5 L1142.5,644.3 L1144.5,650.2 L1146.5,656.2 L1148.5,662.4 L1150.5,668.7 L1152.5,675.1 L1154.5,681.5 L1156.5,688.1 L1158.5,694.7 L1160.5,701.3 L1162.5,708.1 L1164.5,714.8 L1166.5,721.6 L1168.5,728.4 L1170.5,735.2 L1172.5,742.0 L1174.5,748.8 L1176.5,755.6 L1178.5,762.3 L1180.5,769.0 L1182.5,775.7 L1184.5,782.3 L1186.5,788.8 L1188.5,795.2 L1190.5,801.5 L1192.5,807.8 L1194.5,813.9 L1196.5,819.9 L1198.5,825.8 L1200.5,831.5 L1202.5,837.1 L1204.5,842.5 L1206.5,847.7 L1208.5,852.8 L1210.5,857.6 L1212.5,862.3 L1214.5,866.8 L1216.5,871.0 L1218.5,875.0 L1220.5,878.8 L1222.5,882.3 L1224.5,885.5 L1226.5,888.5 L1228.5,891.2 L1230.5,893.6 L1232.5,895.7 L1234.5,897.4 L1236.5,898.9 L1238.5,900.0 L1240.5,900.8 L1242.2,901.2 L1242.5,901.2 L1244.5,901.5 L1246.5,901.8 L1248.5,902.1 L1250.5,902.4 L1252.5,902.7 L1254.5,902.9 L1256.5,903.2 L1258.5,903.4 L1260.5,903.7 L1262.5,903.9 L1264.5,904.1 L1266.5,904.4 L1268.5,904.6 L1270.5,904.8 L1272.5,905.0 L1274.5,905.2 L1276.5,905.4 L1278.5,905.6 L1280.5,905.8 L1282.5,906.0 L1284.5,906.2 L1286.5,906.3 L1288.5,906.5 L1290.5,906.7 L1292.5,906.9 L1294.5,907.0 L1296.5,907.2 L1298.5,907.4 L1300.5,907.5 L1302.5,907.7 L1304.5,907.9 L1306.5,908.0 L1308.5,908.2 L1310.5,908.3 L1312.5,908.5 L1314.5,908.7 L1316.5,908.8 L1318.5,909.0 L1320.5,909.2 L1322.5,909.4 L1324.5,909.5 L1326.5,909.7 L1328.5,909.9 L1330.5,910.1 L1332.5,910.2 L1334.5,910.4 L1336.5,910.6 L1338.5,910.8 L1340.5,911.0 L1342.5,911.2 L1344.5,911.4 L1346.5,911.7 L1348.5,911.9 L1350.5,912.1 L1352.5,912.3 L1354.5,912.6 L1356.5,912.8 L1358.5,913.1 L1360.5,913.3 L1362.5,913.6 L1364.5,913.9 L1366.5,914.2 L1368.5,914.5 L1370.5,914.8 L1372.5,915.1 L1374.5,915.4 L1376.5,915.7 L1378.5,916.1 L1380.5,916.4 L1382.5,916.8 L1384.5,917.1 L1386.5,917.5 L1388.5,917.9 L1390.5,918.3 L1391.0,918.4 L1392.5,918.7 L1394.5,919.1 L1396.5,919.6 L1398.5,920.0 L1400.5,920.5 L1402.5,921.0 L1404.5,921.5 L1406.5,922.0 L1408.5,922.5 L1410.5,923.0 L1412.5,923.5 L1414.5,924.1 L1416.5,924.6 L1418.5,925.2 L1420.5,925.7 L1422.5,926.3 L1424.5,926.8 L1426.5,927.4 L1428.5,928.0 L1430.5,928.6 L1432.5,929.2 L1434.5,929.7 L1436.5,930.3 L1438.5,930.9 L1440.5,931.5 L1442.5,932.1 L1444.5,932.7 L1446.5,933.3 L1448.5,933.9 L1450.5,934.5 L1452.5,935.1 L1454.5,935.6 L1456.5,936.2 L1458.5,936.8 L1460.5,937.4 L1462.5,937.9 L1464.5,938.5 L1466.5,939.0 L1468.5,939.6 L1470.5,940.1 L1472.5,940.7 L1474.5,941.2 L1476.5,941.7 L1478.5,942.2 L1480.5,942.7 L1482.5,943.2 L1484.5,943.6 L1486.5,944.1 L1488.5,944.5 L1490.5,945.0 L1492.5,945.4 L1494.5,945.8 L1496.5,946.2 L1498.5,946.6 L1500.5,946.9 L1502.5,947.3 L1504.5,947.6 L1506.5,947.9 L1508.5,948.2 L1510.5,948.5 L1512.5,948.7 L1514.5,948.9 L1516.5,949.2 L1518.5,949.3 L1520.5,949.5 L1522.5,949.7 L1524.5,949.8 L1526.5,949.9 L1528.5,950.0 L1530.5,950.0 L1532.5,950.0 L1534.5,950.0 L1536.5,950.0 L1537.6,950.0 L1538.5,950.0 L1540.5,949.9 L1542.5,949.9 L1544.5,949.8 L1546.5,949.8 L1548.5,949.7 L1550.5,949.7 L1552.5,949.6 L1554.5,949.6 L1556.5,949.5 L1558.5,949.4 L1560.5,949.4 L1562.5,949.3 L1564.5,949.3 L1566.5,949.2 L1568.5,949.2 L1570.5,949.1 L1572.5,949.0 L1574.5,949.0 L1576.5,948.9 L1578.5,948.9 L1580.5,948.8 L1582.5,948.8 L1584.5,948.7 L1586.5,948.6 L1588.5,948.6 L1590.5,948.5 L1592.5,948.4 L1594.5,948.4 L1596.5,948.3 L1598.5,948.3 L1600.5,948.2 L1602.5,948.1 L1604.5,948.1 L1606.5,948.0 L1608.5,947.9 L1610.5,947.9 L1612.5,947.8 L1614.5,947.8 L1616.5,947.7 L1618.5,947.6 L1620.5,947.6 L1622.5,947.5 L1624.5,947.4 L1626.5,947.4 L1628.5,947.3 L1630.5,947.2 L1632.5,947.2 L1634.5,947.1 L1636.5,947.0 L1638.5,947.0 L1640.5,946.9 L1642.5,946.8 L1644.5,946.8 L1646.5,946.7 L1648.5,946.6 L1650.5,946.6 L1652.5,946.5 L1654.5,946.4 L1656.5,946.4 L1658.5,946.3 L1660.5,946.2 L1662.5,946.2 L1664.5,946.1 L1666.5,946.0 L1668.5,946.0 L1670.5,945.9 L1672.5,945.8 L1674.5,945.8 L1676.5,945.7 L1678.5,945.6 L1680.5,945.6 L1682.5,945.5 L1684.5,945.4 L1686.0,945.4 L1686.5,945.4 L1688.5,945.3 L1690.5,945.2 L1692.5,945.2 L1694.5,945.1 L1696.5,945.0 L1698.5,945.0 L1700.5,944.9 L1702.5,944.8 L1704.5,944.8 L1706.5,944.7 L1708.5,944.6 L1710.5,944.5 L1712.5,944.5 L1714.5,944.4 L1716.5,944.3 L1718.5,944.3 L1720.5,944.2 L1722.5,944.1 L1724.5,944.0 L1726.5,944.0 L1728.5,943.9 L1730.5,943.8 L1732.5,943.7 L1734.5,943.7 L1736.5,943.6 L1738.5,943.5 L1740.5,943.4 L1742.5,943.4 L1744.5,943.3 L1746.5,943.2 L1748.5,943.1 L1750.5,943.1 L1752.5,943.0 L1754.5,942.9 L1756.5,942.8 L1758.5,942.8 L1760.5,942.7 L1762.5,942.6 L1764.5,942.5 L1766.5,942.5 L1768.5,942.4 L1770.5,942.3 L1772.5,942.3 L1774.5,942.2 L1776.5,942.1 L1778.5,942.0 L1780.5,942.0 L1782.5,941.9 L1784.5,941.8 L1786.5,941.8 L1788.5,941.7 L1790.5,941.6 L1792.5,941.6 L1794.5,941.5 L1796.5,941.5 L1798.5,941.4 L1800.5,941.3 L1802.5,941.3 L1804.5,941.2 L1806.5,941.2 L1808.5,941.1 L1810.5,941.0 L1812.5,941.0 L1814.5,940.9 L1816.5,940.9 L1818.5,940.8 L1820.5,940.8 L1822.5,940.7 L1824.5,940.7 L1826.5,940.6 L1828.5,940.6 L1830.5,940.6 L1832.5,940.5 L1833.0,940.5 L1834.5,940.5 L1836.5,940.4 L1838.5,940.4 L1840.5,940.4 L1842.5,940.3 L1844.5,940.3 L1846.5,940.3 L1848.5,940.3 L1850.5,940.3 L1852.5,940.2 L1854.5,940.2 L1856.5,940.2 L1858.5,940.2 L1860.5,940.2 L1862.5,940.2 L1864.5,940.2 L1866.5,940.2 L1868.5,940.2 L1870.5,940.2 L1872.5,940.2 L1874.5,940.2 L1876.5,940.2 L1878.5,940.2 L1880.5,940.3 L1882.5,940.3 L1884.5,940.3 L1886.5,940.3 L1888.5,940.3 L1890.5,940.4 L1892.5,940.4 L1894.5,940.4 L1896.5,940.4 L1898.5,940.5 L1900.5,940.5 L1902.5,940.5 L1904.5,940.5 L1906.5,940.6 L1908.5,940.6 L1910.5,940.6 L1912.5,940.7 L1914.5,940.7 L1916.5,940.8 L1918.5,940.8 L1920.5,940.8 L1922.5,940.9 L1924.5,940.9 L1926.5,940.9 L1928.5,941.0 L1930.5,941.0 L1932.5,941.1 L1934.5,941.1 L1936.5,941.1 L1938.5,941.2 L1940.5,941.2 L1942.5,941.3 L1944.5,941.3 L1946.5,941.4 L1948.5,941.4 L1950.5,941.4 L1952.5,941.5 L1954.5,941.5 L1956.5,941.6 L1958.5,941.6 L1960.5,941.6 L1962.5,941.7 L1964.5,941.7 L1966.5,941.7 L1968.5,941.8 L1970.5,941.8 L1972.5,941.9 L1974.5,941.9 L1976.5,941.9 L1978.5,942.0 L1980.5,942.0 L1981.5,942.0 L1982.5,942.0 L1984.5,942.0 L1986.5,942.1 L1988.5,942.1 L1990.5,942.1 L1992.5,942.2 L1994.5,942.2 L1996.5,942.2 L1998.5,942.3 L2000.5,942.3 L2002.5,942.3 L2004.5,942.3 L2006.5,942.4 L2008.5,942.4 L2010.5,942.4 L2012.5,942.5 L2014.5,942.5 L2016.5,942.5 L2018.5,942.5 L2020.5,942.6 L2022.5,942.6 L2024.5,942.6 L2026.5,942.7 L2028.5,942.7 L2030.5,942.7 L2032.5,942.8 L2034.5,942.8 L2036.5,942.8 L2038.5,942.8 L2040.5,942.9 L2042.5,942.9 L2044.5,942.9 L2046.5,943.0 L2048.5,943.0 L2050.5,943.0 L2052.5,943.1 L2054.5,943.1 L2056.5,943.1 L2058.5,943.1 L2060.5,943.2 L2062.5,943.2 L2064.5,943.2 L2066.5,943.3 L2068.5,943.3 L2070.5,943.3 L2072.5,943.4 L2074.5,943.4 L2076.5,943.4 L2078.5,943.5 L2080.5,943.5 L2082.5,943.5 L2084.5,943.6 L2086.5,943.6 L2088.5,943.6 L2090.5,943.6 L2092.5,943.7 L2094.5,943.7 L2096.5,943.7 L2098.5,943.8 L2100.5,943.8 L2102.5,943.8 L2104.5,943.9 L2106.5,943.9 L2108.5,944.0 L2110.5,944.0 L2112.5,944.0 L2114.5,944.1 L2116.5,944.1 L2118.5,944.1 L2120.5,944.2 L2122.5,944.2 L2124.5,944.2 L2126.5,944.3 L2128.0,944.3" fill="none" stroke="#00ff00" stroke-width="9.4" stroke-linejoin="round" stroke-linecap="round"/>
<polygon points="268.5,1072.3 288.2,1104.8 248.8,1104.8" fill="#00ff00"/>
<polygon points="415.0,1057.4 434.7,1089.9 395.3,1089.9" fill="#00ff00"/>
<polygon points="651.6,1059.4 671.3,1091.9 631.9,1091.9" fill="#00ff00"/>
<polygon points="800.1,1082.1 819.8,1114.6 780.4,1114.6" fill="#00ff00"/>
<polygon points="946.5,1020.0 966.2,1052.5 926.8,1052.5" fill="#00ff00"/>
<polygon points="1095.0,544.6 1114.7,577.1 1075.3,577.1" fill="#00ff00"/>
<polygon points="1242.2,879.4 1261.9,911.9 1222.5,911.9" fill="#00ff00"/>
<polygon points="1391.0,896.6 1410.7,929.1 1371.3,929.1" fill="#00ff00"/>
<polygon points="1537.6,928.2 1557.3,960.7 1517.9,960.7" fill="#00ff00"/>
<polygon points="1686.0,923.6 1705.7,956.1 1666.3,956.1" fill="#00ff00"/>
<polygon points="1833.0,918.7 1852.7,951.2 1813.3,951.2" fill="#00ff00"/>
<polygon points="1981.5,920.2 2001.2,952.7 1961.8,952.7" fill="#00ff00"/>
<polygon points="2128.0,922.5 2147.7,955.0 2108.3,955.0" fill="#00ff00"/>
<path d="M268.5,1088.4 L270.5,1088.2 L272.5,1088.0 L274.5,1087.7 L276.5,1087.5 L278.5,1087.3 L280.5,1087.1 L282.5,1086.9 L284.5,1086.7 L286.5,1086.5 L288.5,1086.3 L290.5,1086.1 L292.5,1085.9 L294.5,1085.7 L296.5,1085.5 L298.5,1085.4 L300.5,1085.2 L302.5,1085.0 L304.5,1084.8 L306.5,1084.6 L308.5,1084.5 L310.5,1084.3 L312.5,1084.1 L314.5,1084.0 L316.5,1083.8 L318.5,1083.6 L320.5,1083.5 L322.5,1083.3 L324.5,1083.2 L326.5,1083.0 L328.5,1082.9 L330.5,1082.7 L332.5,1082.6 L334.5,1082.4 L336.5,1082.3 L338.5,1082.1 L340.5,1082.0 L342.5,1081.8 L344.5,1081.7 L346.5,1081.6 L348.5,1081.4 L350.5,1081.3 L352.5,1081.2 L354.5,1081.0 L356.5,1080.9 L358.5,1080.8 L360.5,1080.7 L362.5,1080.5 L364.5,1080.4 L366.5,1080.3 L368.5,1080.2 L370.5,1080.1 L372.5,1079.9 L374.5,1079.8 L376.5,1079.7 L378.5,1079.6 L380.5,1079.5 L382.5,1079.4 L384.5,1079.3 L386.5,1079.2 L388.5,1079.1 L390.5,1078.9 L392.5,1078.8 L394.5,1078.7 L396.5,1078.6 L398.5,1078.5 L400.5,1078.4 L402.5,1078.3 L404.5,1078.2 L406.5,1078.1 L408.5,1078.0 L410.5,1077.9 L412.5,1077.8 L414.5,1077.7 L415.0,1077.7 L416.5,1077.6 L418.5,1077.5 L420.5,1077.4 L422.5,1077.4 L424.5,1077.3 L426.5,1077.2 L428.5,1077.1 L430.5,1077.0 L432.5,1076.9 L434.5,1076.9 L436.5,1076.8 L438.5,1076.7 L440.5,1076.7 L442.5,1076.6 L444.5,1076.5 L446.5,1076.5 L448.5,1076.4 L450.5,1076.4 L452.5,1076.3 L454.5,1076.3 L456.5,1076.2 L458.5,1076.2 L460.5,1076.1 L462.5,1076.1 L464.5,1076.1 L466.5,1076.0 L468.5,1076.0 L470.5,1076.0 L472.5,1075.9 L474.5,1075.9 L476.5,1075.9 L478.5,1075.9 L480.5,1075.8 L482.5,1075.8 L484.5,1075.8 L486.5,1075.8 L488.5,1075.8 L490.5,1075.8 L492.5,1075.7 L494.5,1075.7 L496.5,1075.7 L498.5,1075.7 L500.5,1075.7 L502.5,1075.7 L504.5,1075.7 L506.5,1075.7 L508.5,1075.7 L510.5,1075.7 L512.5,1075.7 L514.5,1075.8 L516.5,1075.8 L518.5,1075.8 L520.5,1075.8 L522.5,1075.8 L524.5,1075.8 L526.5,1075.8 L528.5,1075.9 L530.5,1075.9 L532.5,1075.9 L534.5,1075.9 L536.5,1076.0 L538.5,1076.0 L540.5,1076.0 L542.5,1076.0 L544.5,1076.1 L546.5,1076.1 L548.5,1076.1 L550.5,1076.2 L552.5,1076.2 L554.5,1076.2 L556.5,1076.3 L558.5,1076.3 L560.5,1076.4 L562.5,1076.4 L564.5,1076.4 L566.5,1076.5 L568.5,1076.5 L570.5,1076.6 L572.5,1076.6 L574.5,1076.7 L576.5,1076.7 L578.5,1076.8 L580.5,1076.8 L582.5,1076.9 L584.5,1076.9 L586.5,1077.0 L588.5,1077.0 L590.5,1077.1 L592.5,1077.1 L594.5,1077.2 L596.5,1077.2 L598.5,1077.3 L600.5,1077.3 L602.5,1077.4 L604.5,1077.5 L606.5,1077.5 L608.5,1077.6 L610.5,1077.6 L612.5,1077.7 L614.5,1077.7 L616.5,1077.8 L618.5,1077.9 L620.5,1077.9 L622.5,1078.0 L624.5,1078.1 L626.5,1078.1 L628.5,1078.2 L630.5,1078.2 L632.5,1078.3 L634.5,1078.4 L636.5,1078.4 L638.5,1078.5 L640.5,1078.5 L642.5,1078.6 L644.5,1078.7 L646.5,1078.7 L648.5,1078.8 L650.5,1078.9 L651.6,1078.9 L652.5,1078.9 L654.5,1079.0 L656.5,1079.1 L658.5,1079.2 L660.5,1079.4 L662.5,1079.5 L664.5,1079.7 L666.5,1079.8 L668.5,1080.0 L670.5,1080.2 L672.5,1080.5 L674.5,1080.7 L676.5,1080.9 L678.5,1081.2 L680.5,1081.5 L682.5,1081.8 L684.5,1082.1 L686.5,1082.4 L688.5,1082.7 L690.5,1083.0 L692.5,1083.4 L694.5,1083.7 L696.5,1084.1 L698.5,1084.4 L700.5,1084.8 L702.5,1085.2 L704.5,1085.6 L706.5,1086.0 L708.5,1086.4 L710.5,1086.8 L712.5,1087.2 L714.5,1087.7 L716.5,1088.1 L718.5,1088.5 L720.5,1089.0 L722.5,1089.4 L724.5,1089.9 L726.5,1090.3 L728.5,1090.8 L730.5,1091.2 L732.5,1091.7 L734.5,1092.2 L736.5,1092.6 L738.5,1093.1 L740.5,1093.6 L742.5,1094.0 L744.5,1094.5 L746.5,1095.0 L748.5,1095.4 L750.5,1095.9 L752.5,1096.4 L754.5,1096.8 L756.5,1097.3 L758.5,1097.7 L760.5,1098.2 L762.5,1098.6 L764.5,1099.1 L766.5,1099.5 L768.5,1100.0 L770.5,1100.4 L772.5,1100.8 L774.5,1101.2 L776.5,1101.6 L778.5,1102.1 L780.5,1102.5 L782.5,1102.8 L784.5,1103.2 L786.5,1103.6 L788.5,1104.0 L790.5,1104.3 L792.5,1104.7 L794.5,1105.0 L796.5,1105.3 L798.5,1105.7 L800.1,1105.9 L800.5,1106.0 L802.5,1106.2 L804.5,1106.5 L806.5,1106.7 L808.5,1106.9 L810.5,1107.0 L812.5,1107.2 L814.5,1107.2 L816.5,1107.3 L818.5,1107.3 L820.5,1107.3 L822.5,1107.3 L824.5,1107.2 L826.5,1107.2 L828.5,1107.0 L830.5,1106.9 L832.5,1106.7 L834.5,1106.5 L836.5,1106.3 L838.5,1106.1 L840.5,1105.8 L842.5,1105.5 L844.5,1105.2 L846.5,1104.9 L848.5,1104.5 L850.5,1104.1 L852.5,1103.7 L854.5,1103.3 L856.5,1102.8 L858.5,1102.4 L860.5,1101.9 L862.5,1101.4 L864.5,1100.8 L866.5,1100.3 L868.5,1099.7 L870.5,1099.1 L872.5,1098.5 L874.5,1097.9 L876.5,1097.2 L878.5,1096.6 L880.5,1095.9 L882.5,1095.2 L884.5,1094.5 L886.5,1093.8 L888.5,1093.1 L890.5,1092.3 L892.5,1091.6 L894.5,1090.8 L896.5,1090.0 L898.5,1089.2 L900.5,1088.4 L902.5,1087.6 L904.5,1086.8 L906.5,1085.9 L908.5,1085.1 L910.5,1084.2 L912.5,1083.3 L914.5,1082.5 L916.5,1081.6 L918.5,1080.7 L920.5,1079.8 L922.5,1078.9 L924.5,1078.0 L926.5,1077.0 L928.5,1076.1 L930.5,1075.2 L932.5,1074.2 L934.5,1073.3 L936.5,1072.4 L938.5,1071.4 L940.5,1070.5 L942.5,1069.5 L944.5,1068.6 L946.5,1067.6 L948.5,1066.5 L950.5,1065.0 L952.5,1063.1 L954.5,1061.0 L956.5,1058.5 L958.5,1055.6 L960.5,1052.5 L962.5,1049.1 L964.5,1045.4 L966.5,1041.4 L968.5,1037.2 L970.5,1032.7 L972.5,1027.9 L974.5,1023.0 L976.5,1017.8 L978.5,1012.4 L980.5,1006.7 L982.5,1000.9 L984.5,994.9 L986.5,988.8 L988.5,982.4 L990.5,975.9 L992.5,969.3 L994.5,962.5 L996.5,955.6 L998.5,948.6 L1000.5,941.5 L1002.5,934.3 L1004.5,927.1 L1006.5,919.7 L1008.5,912.3 L1010.5,904.8 L1012.5,897.3 L1014.5,889.7 L1016.5,882.2 L1018.5,874.6 L1020.5,867.0 L1022.5,859.4 L1024.5,851.9 L1026.5,844.4 L1028.5,836.9 L1030.5,829.4 L1032.5,822.0 L1034.5,814.7 L1036.5,807.5 L1038.5,800.3 L1040.5,793.3 L1042.5,786.4 L1044.5,779.5 L1046.5,772.8 L1048.5,766.3 L1050.5,759.9 L1052.5,753.6 L1054.5,747.6 L1056.5,741.7 L1058.5,736.0 L1060.5,730.5 L1062.5,725.2 L1064.5,720.1 L1066.5,715.3 L1068.5,710.7 L1070.5,706.3 L1072.5,702.2 L1074.5,698.4 L1076.5,694.8 L1078.5,691.6 L1080.5,688.6 L1082.5,686.0 L1084.5,683.7 L1086.5,681.7 L1088.5,680.1 L1090.5,678.8 L1092.5,677.8 L1094.5,677.3 L1095.0,677.2 L1096.5,677.1 L1098.5,677.2 L1100.5,677.6 L1102.5,678.2 L1104.5,679.2 L1106.5,680.4 L1108.5,681.8 L1110.5,683.5 L1112.5,685.5 L1114.5,687.7 L1116.5,690.0 L1118.5,692.7 L1120.5,695.5 L1122.5,698.5 L1124.5,701.7 L1126.5,705.1 L1128.5,708.7 L1130.5,712.4 L1132.5,716.3 L1134.5,720.4 L1136.5,724.6 L1138.5,728.9 L1140.5,733.3 L1142.5,737.9 L1144.5,742.6 L1146.5,747.4 L1148.5,752.3 L1150.5,757.2 L1152.5,762.3 L1154.5,767.4 L1156.5,772.6 L1158.5,777.8 L1160.5,783.1 L1162.5,788.4 L1164.5,793.7 L1166.5,799.1 L1168.5,804.4 L1170.5,809.8 L1172.5,815.2 L1174.5,820.6 L1176.5,825.9 L1178.5,831.3 L1180.5,836.5 L1182.5,841.8 L1184.5,847.0 L1186.5,852.1 L1188.5,857.2 L1190.5,862.2 L1192.5,867.1 L1194.5,871.9 L1196.5,876.6 L1198.5,881.2 L1200.5,885.7 L1202.5,890.1 L1204.5,894.3 L1206.5,898.4 L1208.5,902.4 L1210.5,906.2 L1212.5,909.8 L1214.5,913.3 L1216.5,916.6 L1218.5,919.7 L1220.5,922.5 L1222.5,925.2 L1224.5,927.7 L1226.5,930.0 L1228.5,932.0 L1230.5,933.8 L1232.5,935.3 L1234.5,936.6 L1236.5,937.7 L1238.5,938.4 L1240.5,938.9 L1242.2,939.1 L1242.5,939.1 L1244.5,939.2 L1246.5,939.3 L1248.5,939.3 L1250.5,939.3 L1252.5,939.3 L1254.5,939.3 L1256.5,939.3 L1258.5,939.3 L1260.5,939.2 L1262.5,939.1 L1264.5,939.1 L1266.5,939.0 L1268.5,938.8 L1270.5,938.7 L1272.5,938.6 L1274.5,938.4 L1276.5,938.3 L1278.5,938.1 L1280.5,937.9 L1282.5,937.7 L1284.5,937.5 L1286.5,937.3 L1288.5,937.1 L1290.5,936.9 L1292.5,936.7 L1294.5,936.5 L1296.5,936.2 L1298.5,936.0 L1300.5,935.8 L1302.5,935.5 L1304.5,935.3 L1306.5,935.1 L1308.5,934.8 L1310.5,934.6 L1312.5,934.3 L1314.5,934.1 L1316.5,933.9 L1318.5,933.6 L1320.5,933.4 L1322.5,933.2 L1324.5,933.0 L1326.5,932.8 L1328.5,932.6 L1330.5,932.4 L1332.5,932.2 L1334.5,932.0 L1336.5,931.8 L1338.5,931.7 L1340.5,931.5 L1342.5,931.4 L1344.5,931.2 L1346.5,931.1 L1348.5,931.0 L1350.5,930.9 L1352.5,930.8 L1354.5,930.8 L1356.5,930.7 L1358.5,930.7 L1360.5,930.7 L1362.5,930.7 L1364.5,930.7 L1366.5,930.7 L1368.5,930.8 L1370.5,930.9 L1372.5,931.0 L1374.5,931.1 L1376.5,931.2 L1378.5,931.4 L1380.5,931.6 L1382.5,931.8 L1384.5,932.1 L1386.5,932.3 L1388.5,932.6 L1390.5,932.9 L1391.0,933.0 L1392.5,933.3 L1394.5,933.6 L1396.5,934.0 L1398.5,934.3 L1400.5,934.7 L1402.5,935.1 L1404.5,935.5 L1406.5,935.9 L1408.5,936.3 L1410.5,936.8 L1412.5,937.2 L1414.5,937.7 L1416.5,938.1 L1418.5,938.6 L1420.5,939.0 L1422.5,939.5 L1424.5,940.0 L1426.5,940.4 L1428.5,940.9 L1430.5,941.4 L1432.5,941.9 L1434.5,942.4 L1436.5,942.9 L1438.5,943.4 L1440.5,943.9 L1442.5,944.4 L1444.5,944.9 L1446.5,945.4 L1448.5,945.9 L1450.5,946.4 L1452.5,946.9 L1454.5,947.4 L1456.5,947.9 L1458.5,948.4 L1460.5,948.9 L1462.5,949.3 L1464.5,949.8 L1466.5,950.3 L1468.5,950.8 L1470.5,951.2 L1472.5,951.7 L1474.5,952.2 L1476.5,952.6 L1478.5,953.1 L1480.5,953.5 L1482.5,953.9 L1484.5,954.3 L1486.5,954.7 L1488.5,955.1 L1490.5,955.5 L1492.5,955.9 L1494.5,956.3 L1496.5,956.7 L1498.5,957.0 L1500.5,957.3 L1502.5,957.7 L1504.5,958.0 L1506.5,958.3 L1508.5,958.6 L1510.5,958.8 L1512.5,959.1 L1514.5,959.3 L1516.5,959.6 L1518.5,959.8 L1520.5,960.0 L1522.5,960.1 L1524.5,960.3 L1526.5,960.4 L1528.5,960.6 L1530.5,960.7 L1532.5,960.8 L1534.5,960.8 L1536.5,960.9 L1537.6,960.9 L1538.5,960.9 L1540.5,960.9 L1542.5,961.0 L1544.5,961.0 L1546.5,961.0 L1548.5,961.0 L1550.5,961.1 L1552.5,961.1 L1554.5,961.1 L1556.5,961.1 L1558.5,961.1 L1560.5,961.1 L1562.5,961.2 L1564.5,961.2 L1566.5,961.2 L1568.5,961.2 L1570.5,961.2 L1572.5,961.2 L1574.5,961.2 L1576.5,961.2 L1578.5,961.2 L1580.5,961.3 L1582.5,961.3 L1584.5,961.3 L1586.5,961.3 L1588.5,961.3 L1590.5,961.3 L1592.5,961.3 L1594.5,961.3 L1596.5,961.3 L1598.5,961.3 L1600.5,961.2 L1602.5,961.2 L1604.5,961.2 L1606.5,961.2 L1608.5,961.2 L1610.5,961.2 L1612.5,961.2 L1614.5,961.2 L1616.5,961.2 L1618.5,961.2 L1620.5,961.1 L1622.5,961.1 L1624.5,961.1 L1626.5,961.1 L1628.5,961.1 L1630.5,961.0 L1632.5,961.0 L1634.5,961.0 L1636.5,961.0 L1638.5,960.9 L1640.5,960.9 L1642.5,960.9 L1644.5,960.8 L1646.5,960.8 L1648.5,960.8 L1650.5,960.7 L1652.5,960.7 L1654.5,960.7 L1656.5,960.6 L1658.5,960.6 L1660.5,960.5 L1662.5,960.5 L1664.5,960.5 L1666.5,960.4 L1668.5,960.4 L1670.5,960.3 L1672.5,960.3 L1674.5,960.2 L1676.5,960.2 L1678.5,960.1 L1680.5,960.1 L1682.5,960.0 L1684.5,959.9 L1686.0,959.9 L1686.5,959.9 L1688.5,959.8 L1690.5,959.8 L1692.5,959.7 L1694.5,959.6 L1696.5,959.6 L1698.5,959.5 L1700.5,959.4 L1702.5,959.3 L1704.5,959.3 L1706.5,959.2 L1708.5,959.1 L1710.5,959.0 L1712.5,959.0 L1714.5,958.9 L1716.5,958.8 L1718.5,958.7 L1720.5,958.6 L1722.5,958.5 L1724.5,958.4 L1726.5,958.4 L1728.5,958.3 L1730.5,958.2 L1732.5,958.1 L1734.5,958.0 L1736.5,957.9 L1738.5,957.8 L1740.5,957.7 L1742.5,957.7 L1744.5,957.6 L1746.5,957.5 L1748.5,957.4 L1750.5,957.3 L1752.5,957.2 L1754.5,957.1 L1756.5,957.0 L1758.5,957.0 L1760.5,956.9 L1762.5,956.8 L1764.5,956.7 L1766.5,956.6 L1768.5,956.5 L1770.5,956.5 L1772.5,956.4 L1774.5,956.3 L1776.5,956.2 L1778.5,956.1 L1780.5,956.1 L1782.5,956.0 L1784.5,955.9 L1786.5,955.9 L1788.5,955.8 L1790.5,955.7 L1792.5,955.7 L1794.5,955.6 L1796.5,955.6 L1798.5,955.5 L1800.5,955.4 L1802.5,955.4 L1804.5,955.3 L1806.5,955.3 L1808.5,955.3 L1810.5,955.2 L1812.5,955.2 L1814.5,955.2 L1816.5,955.1 L1818.5,955.1 L1820.5,955.1 L1822.5,955.1 L1824.5,955.0 L1826.5,955.0 L1828.5,955.0 L1830.5,955.0 L1832.5,955.0 L1833.0,955.0 L1834.5,955.0 L1836.5,955.0 L1838.5,955.0 L1840.5,955.0 L1842.5,955.0 L1844.5,955.0 L1846.5,955.0 L1848.5,955.0 L1850.5,955.0 L1852.5,955.0 L1854.5,955.0 L1856.5,955.0 L1858.5,955.0 L1860.5,955.0 L1862.5,955.0 L1864.5,955.0 L1866.5,955.0 L1868.5,955.0 L1870.5,955.0 L1872.5,955.0 L1874.5,955.0 L1876.5,955.0 L1878.5,955.0 L1880.5,955.0 L1882.5,955.0 L1884.5,955.0 L1886.5,955.0 L1888.5,955.0 L1890.5,955.0 L1892.5,955.0 L1894.5,955.0 L1896.5,955.0 L1898.5,955.0 L1900.5,955.0 L1902.5,955.0 L1904.5,955.0 L1906.5,955.0 L1908.5,955.0 L1910.5,955.0 L1912.5,955.0 L1914.5,955.0 L1916.5,955.0 L1918.5,955.0 L1920.5,955.0 L1922.5,955.0 L1924.5,955.0 L1926.5,955.0 L1928.5,955.0 L1930.5,955.0 L1932.5,955.0 L1934.5,955.0 L1936.5,955.0 L1938.5,955.0 L1940.5,955.0 L1942.5,955.0 L1944.5,955.0 L1946.5,955.0 L1948.5,955.0 L1950.5,955.0 L1952.5,955.0 L1954.5,955.0 L1956.5,955.0 L1958.5,955.0 L1960.5,955.0 L1962.5,955.0 L1964.5,955.0 L1966.5,955.0 L1968.5,955.0 L1970.5,955.0 L1972.5,955.0 L1974.5,955.0 L1976.5,955.0 L1978.5,955.0 L1980.5,955.0 L1981.5,955.0 L1982.5,955.0 L1984.5,955.0 L1986.5,955.0 L1988.5,955.0 L1990.5,955.0 L1992.5,955.0 L1994.5,955.0 L1996.5,955.0 L1998.5,955.0 L2000.5,955.0 L2002.5,955.0 L2004.5,955.0 L2006.5,955.0 L2008.5,955.0 L2010.5,955.0 L2012.5,955.0 L2014.5,955.0 L2016.5,955.0 L2018.5,955.0 L2020.5,955.0 L2022.5,955.0 L2024.5,955.0 L2026.5,955.0 L2028.5,955.0 L2030.5,955.0 L2032.5,955.0 L2034.5,955.0 L2036.5,955.0 L2038.5,955.0 L2040.5,955.0 L2042.5,955.0 L2044.5,955.0 L2046.5,955.0 L2048.5,955.0 L2050.5,955.0 L2052.5,955.0 L2054.5,955.0 L2056.5,955.0 L2058.5,955.0 L2060.5,955.0 L2062.5,955.0 L2064.5,955.0 L2066.5,955.0 L2068.5,955.0 L2070.5,955.0 L2072.5,955.0 L2074.5,955.0 L2076.5,955.0 L2078.5,955.0 L2080.5,955.0 L2082.5,955.0 L2084.5,955.0 L2086.5,955.0 L2088.5,955.0 L2090.5,955.0 L2092.5,955.0 L2094.5,955.0 L2096.5,955.0 L2098.5,955.0 L2100.5,955.0 L2102.5,955.0 L2104.5,955.0 L2106.5,955.0 L2108.5,955.0 L2110.5,955.0 L2112.5,955.0 L2114.5,955.0 L2116.5,955.0 L2118.5,955.0 L2120.5,955.0 L2122.5,955.0 L2124.5,955.0 L2126.5,955.0 L2128.0,955.0" fill="none" stroke="#0000ff" stroke-width="9.4" stroke-linejoin="round" stroke-linecap="round"/>
<rect x="253.5" y="1073.8" width="30" height="29.2" fill="#0000ff"/>
<rect x="400.0" y="1063.1" width="30" height="29.2" fill="#0000ff"/>
<rect x="636.6" y="1064.3" width="30" height="29.2" fill="#0000ff"/>
<rect x="785.1" y="1091.3" width="30" height="29.2" fill="#0000ff"/>
<rect x="931.5" y="1053.0" width="30" height="29.2" fill="#0000ff"/>
<rect x="1080.0" y="662.6" width="30" height="29.2" fill="#0000ff"/>
<rect x="1227.2" y="924.5" width="30" height="29.2" fill="#0000ff"/>
<rect x="1376.0" y="918.4" width="30" height="29.2" fill="#0000ff"/>
<rect x="1522.6" y="946.3" width="30" height="29.2" fill="#0000ff"/>
<rect x="1671.0" y="945.3" width="30" height="29.2" fill="#0000ff"/>
<rect x="1818.0" y="940.4" width="30" height="29.2" fill="#0000ff"/>
<rect x="1966.5" y="940.4" width="30" height="29.2" fill="#0000ff"/>
<rect x="2113.0" y="940.4" width="30" height="29.2" fill="#0000ff"/>
</g>
<line x1="1441" y1="181.4" x2="1562" y2="181.4" stroke="#000000" stroke-width="9.4" stroke-linecap="round"/>
<rect x="1486.0" y="165.8" width="30" height="29.2" fill="#000000"/>
<text class="lg" x="1592" y="204.4">Gas–oil ratio 100 m<tspan dy="-25.4" font-size="42px">3</tspan><tspan dy="25.4">/t</tspan></text>
<line x1="1441" y1="265.6" x2="1562" y2="265.6" stroke="#ff0000" stroke-width="9.4" stroke-linecap="round"/>
<circle cx="1501.0" cy="264.6" r="16.3" fill="#ff0000"/>
<text class="lg" x="1592" y="288.6">Gas–oil ratio 160 m<tspan dy="-25.4" font-size="42px">3</tspan><tspan dy="25.4">/t</tspan></text>
<line x1="1441" y1="349.5" x2="1562" y2="349.5" stroke="#00ff00" stroke-width="9.4" stroke-linecap="round"/>
<polygon points="1501.0,327.7 1520.7,360.2 1481.3,360.2" fill="#00ff00"/>
<text class="lg" x="1592" y="372.5">Gas–oil ratio 220 m<tspan dy="-25.4" font-size="42px">3</tspan><tspan dy="25.4">/t</tspan></text>
<line x1="1441" y1="433.5" x2="1562" y2="433.5" stroke="#0000ff" stroke-width="9.4" stroke-linecap="round"/>
<rect x="1486.0" y="417.9" width="30" height="29.2" fill="#0000ff"/>
<text class="lg" x="1592" y="456.5">Gas–oil ratio 280 m<tspan dy="-25.4" font-size="42px">3</tspan><tspan dy="25.4">/t</tspan></text>
</svg></body></html>
